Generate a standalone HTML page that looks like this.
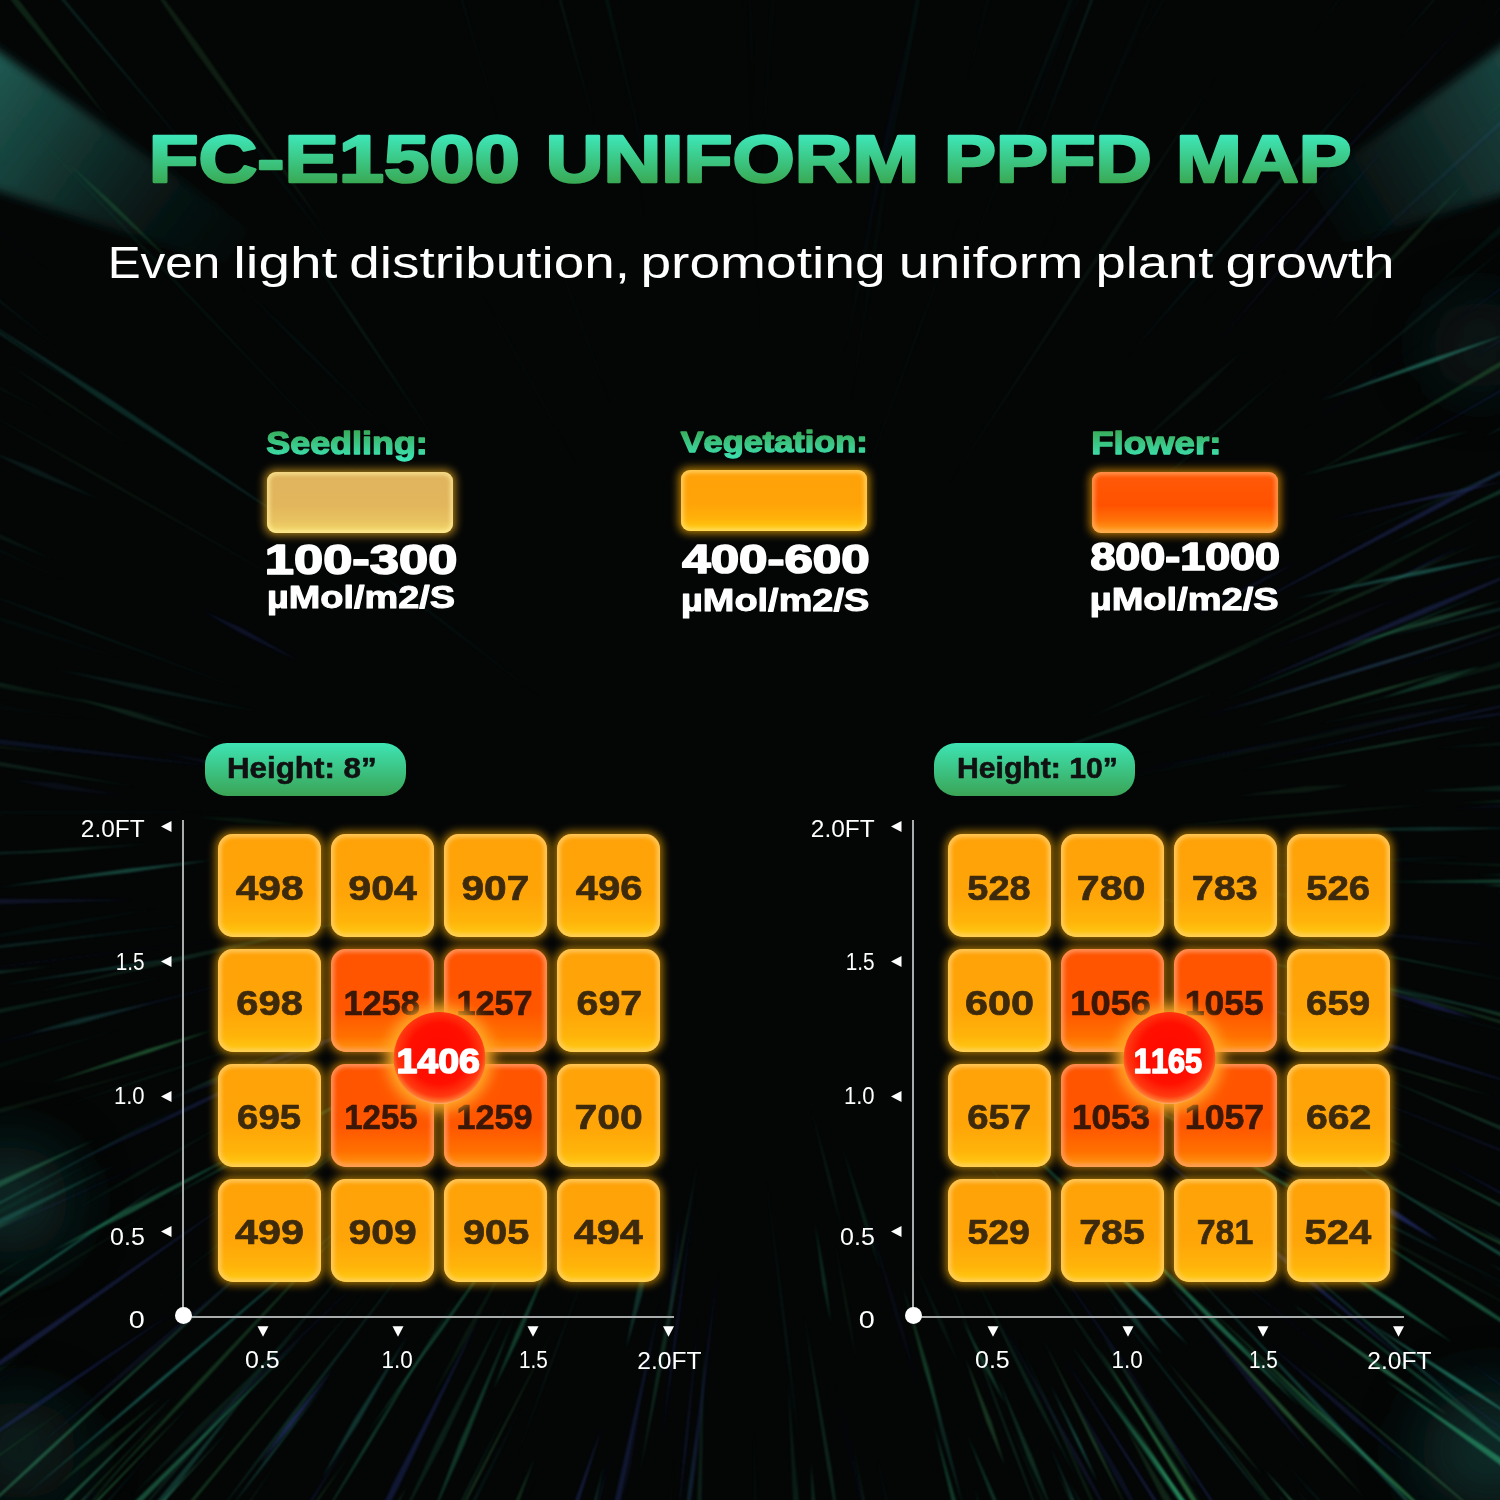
<!DOCTYPE html><html><head><meta charset="utf-8"><style>html,body{margin:0;padding:0;background:#040606;}svg{display:block;font-family:"Liberation Sans",sans-serif;font-kerning:none;}</style></head><body>
<svg width="1500" height="1500" viewBox="0 0 1500 1500">

<defs>
<filter id="bl1" x="-10%" y="-10%" width="120%" height="120%"><feGaussianBlur stdDeviation="0.8"/></filter>
<filter id="bl8" x="-80%" y="-80%" width="260%" height="260%"><feGaussianBlur stdDeviation="30"/></filter>
<filter id="bl4" x="-30%" y="-30%" width="160%" height="160%"><feGaussianBlur stdDeviation="5"/></filter>
<linearGradient id="gBeamL" x1="0" y1="0" x2="1" y2="0.6">
  <stop offset="0" stop-color="#205e56" stop-opacity="1"/><stop offset="0.3" stop-color="#1b5049" stop-opacity="0.75"/><stop offset="0.7" stop-color="#163f3a" stop-opacity="0.25"/><stop offset="1" stop-color="#143c38" stop-opacity="0"/>
</linearGradient>
<linearGradient id="gBeamR" x1="1" y1="0" x2="0" y2="0.6">
  <stop offset="0" stop-color="#1d4f4a" stop-opacity="0.9"/><stop offset="0.4" stop-color="#1a4642" stop-opacity="0.6"/><stop offset="1" stop-color="#143c38" stop-opacity="0"/>
</linearGradient>
<filter id="glow" x="-30%" y="-30%" width="160%" height="160%"><feGaussianBlur stdDeviation="5"/></filter>
<filter id="glow2" x="-50%" y="-50%" width="200%" height="200%"><feGaussianBlur stdDeviation="7"/></filter>
<filter id="inner" x="-10%" y="-10%" width="120%" height="120%"><feGaussianBlur stdDeviation="2.2"/></filter>
<linearGradient id="gTitle" gradientUnits="userSpaceOnUse" x1="0" y1="134" x2="0" y2="184">
  <stop offset="0" stop-color="#3ee8bb"/><stop offset="1" stop-color="#39a852"/>
</linearGradient>
<linearGradient id="gLabel" gradientUnits="userSpaceOnUse" x1="0" y1="428" x2="0" y2="460">
  <stop offset="0" stop-color="#38a852"/><stop offset="1" stop-color="#3de6b8"/>
</linearGradient>
<linearGradient id="gBadge" x1="0" y1="0" x2="0" y2="1">
  <stop offset="0" stop-color="#3ee4b4"/><stop offset="1" stop-color="#3aa455"/>
</linearGradient>
<linearGradient id="gOr" x1="0" y1="0" x2="0" y2="1">
  <stop offset="0" stop-color="#ffa208"/><stop offset="0.6" stop-color="#ffa508"/><stop offset="0.85" stop-color="#ffb40a"/><stop offset="1" stop-color="#ffcc12"/>
</linearGradient>
<linearGradient id="gRd" x1="0" y1="0" x2="0" y2="1">
  <stop offset="0" stop-color="#ff5400"/><stop offset="0.6" stop-color="#ff5600"/><stop offset="0.85" stop-color="#ff7000"/><stop offset="1" stop-color="#ff9a12"/>
</linearGradient>
<linearGradient id="gSeed" x1="0" y1="0" x2="0" y2="1">
  <stop offset="0" stop-color="#e0b45e"/><stop offset="0.55" stop-color="#e2b65c"/><stop offset="0.8" stop-color="#e8c260"/><stop offset="1" stop-color="#f4da6a"/>
</linearGradient>
<linearGradient id="gVeg" x1="0" y1="0" x2="0" y2="1">
  <stop offset="0" stop-color="#ffa20a"/><stop offset="0.55" stop-color="#ffa308"/><stop offset="0.8" stop-color="#ffb20a"/><stop offset="1" stop-color="#ffd012"/>
</linearGradient>
<linearGradient id="gFlw" x1="0" y1="0" x2="0" y2="1">
  <stop offset="0" stop-color="#ff5a08"/><stop offset="0.55" stop-color="#ff5200"/><stop offset="0.8" stop-color="#ff7408"/><stop offset="1" stop-color="#ffaa22"/>
</linearGradient>
<radialGradient id="gCirc" cx="0.5" cy="0.45" r="0.55">
  <stop offset="0" stop-color="#ff0800"/><stop offset="0.6" stop-color="#ff1000"/><stop offset="0.85" stop-color="#ff3a10"/><stop offset="0.96" stop-color="#ff7a30"/><stop offset="1" stop-color="#ffb070"/>
</radialGradient>
</defs>

<rect width="1500" height="1500" fill="#040606"/>
<g filter="url(#bl4)">
<polygon points="-10,45 300,265 300,290 -10,188" fill="url(#gBeamL)"/>
<polygon points="1510,40 1290,200 1290,262 1510,192" fill="url(#gBeamR)"/>
</g>
<g filter="url(#bl8)">
<ellipse cx="1480" cy="345" rx="50" ry="45" fill="#134040" opacity="0.35"/>
<ellipse cx="10" cy="1200" rx="60" ry="55" fill="#124440" opacity="0.55"/>
<ellipse cx="1490" cy="1450" rx="70" ry="60" fill="#15504a" opacity="0.5"/>
<ellipse cx="20" cy="1450" rx="60" ry="50" fill="#124440" opacity="0.4"/>
</g>
<g filter="url(#bl1)">
<polygon points="1069,1390 1115.1,1477.3 1150,1533 1120.3,1474.4" fill="#3040a8" opacity="0.17"/>
<polygon points="-30,1228 -219.6,1307.3 -345,1364 -217.8,1311.4" fill="#2aa070" opacity="0.35"/>
<polygon points="1159,939 1392.0,990.9 1548,1023 1392.6,988.2" fill="#2b9a8a" opacity="0.26"/>
<polygon points="1191,1124 1390.6,1227.6 1525,1294 1392.0,1224.8" fill="#2b9a8a" opacity="0.16"/>
<polygon points="642,2 631.2,-105.3 618,-176 623.7,-104.4" fill="#3040a8" opacity="0.05"/>
<polygon points="137,1544 40.0,1656.3 -23,1732 41.3,1657.4" fill="#39a35a" opacity="0.22"/>
<polygon points="1391,861 1555.2,868.8 1664,871 1555.3,865.5" fill="#39a35a" opacity="0.13"/>
<polygon points="1017,1336 1084.6,1488.3 1132,1589 1087.3,1487.1" fill="#39a35a" opacity="0.15"/>
<polygon points="1192,618 1256.6,585.4 1299,561 1254.9,582.1" fill="#3444a0" opacity="0.14"/>
<polygon points="-21,894 -109.1,902.0 -168,909 -108.9,904.0" fill="#2aa070" opacity="0.20"/>
<polygon points="1344,1052 1433.9,1079.8 1495,1097 1434.4,1078.2" fill="#4aa860" opacity="0.28"/>
<polygon points="972,1141 1023.2,1216.4 1060,1265 1026.3,1214.2" fill="#3aa070" opacity="0.09"/>
<polygon points="-1,294 -112.1,206.8 -189,152 -115.1,210.7" fill="#2fb07a" opacity="0.09"/>
<polygon points="1215,1320 1304.4,1407.8 1368,1463 1308.8,1403.1" fill="#2aa070" opacity="0.23"/>
<polygon points="1134,591 1193.8,546.3 1232,514 1191.9,543.9" fill="#2b9a8a" opacity="0.05"/>
<polygon points="1478,1526 1600.0,1636.4 1686,1706 1604.9,1630.7" fill="#2b9a8a" opacity="0.23"/>
<polygon points="1398,41 1558.7,-139.4 1663,-262 1555.2,-142.5" fill="#2fa38a" opacity="0.19"/>
<polygon points="1483,886 1574.2,886.6 1635,882 1574.1,880.6" fill="#2fb07a" opacity="0.43"/>
<polygon points="774,1557 768.9,1741.0 772,1863 775.9,1741.0" fill="#3aa070" opacity="0.28"/>
<polygon points="1463,1358 1695.7,1526.7 1852,1637 1697.7,1523.9" fill="#3040a8" opacity="0.55"/>
<polygon points="915,1264 939.5,1325.4 959,1365 943.6,1323.6" fill="#2aa070" opacity="0.09"/>
<polygon points="1476,1226 1610.3,1308.7 1702,1360 1613.1,1304.0" fill="#2fa38a" opacity="0.41"/>
<polygon points="1075,1004 1180.9,1059.6 1253,1094 1182.5,1056.5" fill="#2aa070" opacity="0.28"/>
<polygon points="125,1027 -49.1,1076.9 -164,1116 -47.1,1083.6" fill="#39a35a" opacity="0.06"/>
<polygon points="972,1271 1032.0,1395.7 1076,1477 1036.0,1393.7" fill="#2fb07a" opacity="0.16"/>
<polygon points="1497,419 1735.3,292.1 1891,202 1731.5,285.1" fill="#2fa38a" opacity="0.11"/>
<polygon points="596,130 545.1,-61.4 508,-188 541.7,-60.5" fill="#3aa070" opacity="0.11"/>
<polygon points="1453,809 1580.0,803.2 1664,795 1579.6,798.2" fill="#3444a0" opacity="0.16"/>
<polygon points="1508,610 1594.6,581.9 1650,558 1592.5,576.3" fill="#3444a0" opacity="0.16"/>
<polygon points="1101,1381 1204.6,1537.7 1277,1640 1208.9,1534.8" fill="#2aa070" opacity="0.40"/>
<polygon points="900,1523 920.7,1634.6 936,1708 922.7,1634.2" fill="#2fa38a" opacity="0.19"/>
<polygon points="-38,1155 -126.9,1176.7 -184,1198 -124.6,1184.4" fill="#3444a0" opacity="0.22"/>
<polygon points="1481,279 1679.2,106.0 1808,-12 1675.9,102.4" fill="#2fa38a" opacity="0.13"/>
<polygon points="206,9 32.8,-258.9 -87,-435 28.0,-255.7" fill="#2b9a8a" opacity="0.04"/>
<polygon points="675,1449 657.0,1644.5 646,1775 658.9,1644.7" fill="#39a35a" opacity="0.10"/>
<polygon points="1305,1244 1392.7,1305.2 1453,1343 1395.2,1301.5" fill="#2fb07a" opacity="0.45"/>
<polygon points="140,-26 8.1,-193.2 -83,-303 4.7,-190.5" fill="#3444a0" opacity="0.17"/>
<polygon points="267,775 202.3,759.4 159,752 201.7,762.3" fill="#3040a8" opacity="0.13"/>
<polygon points="198,161 1.1,-77.5 -133,-234 -1.9,-75.0" fill="#2fa38a" opacity="0.20"/>
<polygon points="337,-20 265.9,-200.7 213,-318 259.0,-197.8" fill="#2fb07a" opacity="0.08"/>
<polygon points="965,90 1017.0,-101.8 1047,-231 1011.2,-103.3" fill="#2b9a8a" opacity="0.04"/>
<polygon points="1241,771 1394.1,744.8 1496,725 1393.6,742.2" fill="#3aa070" opacity="0.28"/>
<polygon points="1328,326 1413.0,240.0 1467,180 1409.9,237.0" fill="#4aa860" opacity="0.16"/>
<polygon points="218,740 132.4,711.8 74,697 131.0,716.4" fill="#3aa070" opacity="0.17"/>
<polygon points="175,1403 52.8,1530.0 -28,1615 53.9,1531.1" fill="#4aa860" opacity="0.44"/>
<polygon points="140,1446 5.8,1597.9 -80,1702 9.6,1601.1" fill="#3aa070" opacity="0.23"/>
<polygon points="1379,1076 1518.3,1137.5 1612,1175 1519.7,1134.1" fill="#3aa070" opacity="0.27"/>
<polygon points="1425,296 1508.2,227.0 1560,177 1503.9,222.1" fill="#2fb07a" opacity="0.07"/>
<polygon points="120,795 56.7,782.7 14,780 55.8,789.2" fill="#3040a8" opacity="0.10"/>
<polygon points="980,1469 1032.0,1582.8 1068,1658 1034.1,1581.8" fill="#3040a8" opacity="0.08"/>
<polygon points="179,1061 -1.6,1108.7 -121,1145 -0.3,1113.3" fill="#4aa860" opacity="0.09"/>
<polygon points="42,1352 -126.3,1462.4 -237,1539 -123.9,1466.0" fill="#3444a0" opacity="0.12"/>
<polygon points="305,594 101.7,476.2 -35,400 100.4,478.6" fill="#4aa860" opacity="0.10"/>
<polygon points="1014,790 1100.2,766.7 1157,750 1099.8,765.2" fill="#3040a8" opacity="0.07"/>
<polygon points="19,689 -76.6,666.8 -141,657 -77.7,672.6" fill="#3040a8" opacity="0.04"/>
<polygon points="857,286 891.3,131.5 910,28 886.1,130.4" fill="#3040a8" opacity="0.07"/>
<polygon points="167,1181 -29.5,1312.3 -159,1402 -27.2,1315.6" fill="#2fa38a" opacity="0.48"/>
<polygon points="53,714 -126.4,682.4 -247,664 -127.0,686.2" fill="#2fb07a" opacity="0.05"/>
<polygon points="595,1500 557.9,1673.8 535,1790 560.3,1674.3" fill="#2fb07a" opacity="0.19"/>
<polygon points="1496,354 1651.6,260.9 1755,197 1650.4,259.0" fill="#3aa070" opacity="0.12"/>
<polygon points="1351,1032 1549.8,1096.7 1683,1139 1550.2,1095.3" fill="#3040a8" opacity="0.13"/>
<polygon points="1304,962 1482.5,1011.4 1602,1042 1483.1,1009.0" fill="#3aa070" opacity="0.14"/>
<polygon points="277,1462 137.6,1662.6 46,1797 139.7,1664.1" fill="#4aa860" opacity="0.39"/>
<polygon points="1315,32 1464.7,-164.1 1559,-299 1458.6,-168.6" fill="#2fa38a" opacity="0.08"/>
<polygon points="1553,834 1642.0,832.0 1701,827 1641.8,827.7" fill="#2fb07a" opacity="0.43"/>
<polygon points="1265,1341 1351.0,1418.5 1411,1467 1354.2,1414.8" fill="#3040a8" opacity="0.21"/>
<polygon points="163,1396 96.7,1448.4 56,1487 100.3,1452.6" fill="#39a35a" opacity="0.20"/>
<polygon points="1291,1303 1384.2,1372.8 1449,1416 1386.7,1369.2" fill="#3aa070" opacity="0.55"/>
<polygon points="997,771 1129.2,725.7 1216,692 1127.8,722.1" fill="#2fb07a" opacity="0.15"/>
<polygon points="692,1457 675.2,1609.9 666,1712 677.9,1610.2" fill="#2b9a8a" opacity="0.25"/>
<polygon points="1310,863 1407.4,860.0 1472,857 1407.4,858.6" fill="#2fa38a" opacity="0.12"/>
<polygon points="366,482 151.8,255.1 8,105 150.0,256.8" fill="#2fb07a" opacity="0.09"/>
<polygon points="1239,612 1444.6,505.2 1580,430 1442.2,500.7" fill="#3444a0" opacity="0.31"/>
<polygon points="1484,437 1578.4,390.6 1640,356 1575.9,385.8" fill="#2fa38a" opacity="0.33"/>
<polygon points="1369,466 1598.6,336.3 1751,248 1597.4,334.3" fill="#3040a8" opacity="0.30"/>
<polygon points="-41,141 -183.9,-4.1 -283,-97 -188.4,0.5" fill="#2fa38a" opacity="0.21"/>
<polygon points="1318,724 1488.5,690.3 1602,665 1487.8,686.9" fill="#3aa070" opacity="0.22"/>
<polygon points="1204,1415 1336.3,1591.8 1427,1708 1339.3,1589.5" fill="#39a35a" opacity="0.32"/>
<polygon points="250,978 89.8,1017.3 -16,1046 90.5,1019.8" fill="#3444a0" opacity="0.20"/>
<polygon points="505,1413 420.5,1580.0 368,1693 425.1,1582.2" fill="#2fb07a" opacity="0.15"/>
<polygon points="935,1241 1013.2,1450.5 1067,1590 1015.1,1449.8" fill="#3aa070" opacity="0.21"/>
<polygon points="-16,679 -194.1,643.8 -314,625 -195.1,649.3" fill="#39a35a" opacity="0.22"/>
<polygon points="299,661 242.9,628.8 203,611 240.6,633.1" fill="#3040a8" opacity="0.21"/>
<polygon points="884,181 925.1,-25.9 949,-165 920.1,-26.9" fill="#2fb07a" opacity="0.07"/>
<polygon points="1077,1546 1124.1,1667.2 1161,1746 1131.0,1664.2" fill="#2fb07a" opacity="0.51"/>
<polygon points="1315,405 1433.2,309.0 1510,243 1430.8,306.2" fill="#2fa38a" opacity="0.10"/>
<polygon points="1499,-13 1589.4,-108.5 1647,-175 1585.4,-112.1" fill="#4aa860" opacity="0.17"/>
<polygon points="1050,1384 1077.8,1443.8 1098,1483 1079.9,1442.8" fill="#2b9a8a" opacity="0.50"/>
<polygon points="71,1487 -40.3,1603.1 -113,1682 -38.6,1604.6" fill="#3444a0" opacity="0.51"/>
<polygon points="945,490 1111.7,239.8 1220,71 1108.1,237.4" fill="#4aa860" opacity="0.08"/>
<polygon points="1472,1271 1709.0,1407.1 1869,1494 1711.3,1402.9" fill="#2fb07a" opacity="0.17"/>
<polygon points="137,787 4.4,762.8 -85,750 3.8,766.6" fill="#3aa070" opacity="0.17"/>
<polygon points="14,1308 -163.8,1437.0 -281,1525 -161.9,1439.6" fill="#3aa070" opacity="0.24"/>
<polygon points="357,-49 324.9,-129.4 302,-183 322.7,-128.5" fill="#3aa070" opacity="0.16"/>
<polygon points="1261,760 1462.3,715.9 1596,685 1461.9,714.0" fill="#3040a8" opacity="0.29"/>
<polygon points="1397,1191 1629.2,1310.4 1785,1387 1630.9,1307.0" fill="#39a35a" opacity="0.50"/>
<polygon points="760,191 781.0,-74.4 790,-252 774.3,-74.8" fill="#3aa070" opacity="0.02"/>
<polygon points="846,530 918.1,334.6 965,204 916.4,334.0" fill="#4aa860" opacity="0.06"/>
<polygon points="660,1303 611.9,1512.6 585,1653 617.8,1513.9" fill="#3444a0" opacity="0.28"/>
<polygon points="1330,972 1557.1,1040.4 1710,1083 1558.2,1036.7" fill="#39a35a" opacity="0.25"/>
<polygon points="1000,1123 1087.9,1211.5 1149,1268 1091.1,1208.2" fill="#2aa070" opacity="0.34"/>
<polygon points="833,1377 867.6,1529.5 892,1631 869.4,1529.1" fill="#3040a8" opacity="0.14"/>
<polygon points="877,1455 906.2,1610.1 932,1712 913.3,1608.6" fill="#2b9a8a" opacity="0.06"/>
<polygon points="1502,552 1585.0,517.2 1638,489 1581.9,510.5" fill="#3444a0" opacity="0.23"/>
<polygon points="842,1146 863.1,1221.2 880,1270 866.7,1220.0" fill="#2fb07a" opacity="0.15"/>
<polygon points="1228,711 1435.8,647.5 1574,603 1435.1,645.5" fill="#4aa860" opacity="0.31"/>
<polygon points="768,1515 766.9,1602.0 771,1660 772.3,1601.9" fill="#4aa860" opacity="0.08"/>
<polygon points="1496,892 1582.6,900.9 1641,902 1583.0,895.1" fill="#3aa070" opacity="0.39"/>
<polygon points="1162,827 1323.4,814.6 1431,804 1323.1,811.2" fill="#4aa860" opacity="0.13"/>
<polygon points="1252,638 1391.4,567.2 1483,516 1389.2,563.0" fill="#39a35a" opacity="0.14"/>
<polygon points="1198,309 1373.9,121.6 1490,-5 1372.3,120.1" fill="#3444a0" opacity="0.15"/>
<polygon points="97,1489 -90.6,1645.4 -212,1754 -86.0,1650.7" fill="#3040a8" opacity="0.67"/>
<polygon points="1212,349 1322.1,223.7 1393,138 1318.9,221.0" fill="#3444a0" opacity="0.12"/>
<polygon points="544,700 433.6,614.0 360,558 432.8,615.0" fill="#2b9a8a" opacity="0.14"/>
<polygon points="619,63 590.0,-91.4 564,-193 582.7,-89.8" fill="#2aa070" opacity="0.03"/>
<polygon points="944,1496 988.2,1658.0 1021,1765 992.2,1656.8" fill="#2fa38a" opacity="0.11"/>
<polygon points="350,1439 250.1,1590.9 189,1695 256.4,1594.9" fill="#3040a8" opacity="0.15"/>
<polygon points="1057,1473 1102.4,1565.5 1136,1625 1106.8,1563.2" fill="#3aa070" opacity="0.27"/>
<polygon points="1088,718 1200.7,669.3 1275,635 1199.4,666.5" fill="#3aa070" opacity="0.25"/>
<polygon points="-31,671 -198.2,627.3 -310,600 -198.7,629.0" fill="#3444a0" opacity="0.14"/>
<polygon points="1123,362 1270.3,194.5 1367,81 1267.8,192.4" fill="#2b9a8a" opacity="0.15"/>
<polygon points="408,1335 354.0,1419.8 322,1478 358.5,1422.6" fill="#2b9a8a" opacity="0.31"/>
<polygon points="305,825 239.8,817.8 196,817 239.5,822.8" fill="#39a35a" opacity="0.09"/>
<polygon points="600,1518 586.5,1581.0 581,1623 590.3,1581.7" fill="#3040a8" opacity="0.21"/>
<polygon points="514,1318 459.7,1442.1 428,1526 464.7,1444.2" fill="#2aa070" opacity="0.31"/>
<polygon points="313,1213 141.3,1354.7 30,1453 144.8,1358.7" fill="#3444a0" opacity="0.13"/>
<polygon points="595,-5 554.5,-261.3 523,-432 549.0,-260.4" fill="#2fb07a" opacity="0.04"/>
<polygon points="1302,1092 1364.1,1127.6 1407,1149 1366.0,1124.2" fill="#39a35a" opacity="0.27"/>
<polygon points="362,1551 257.7,1734.8 191,1859 260.9,1736.5" fill="#3aa070" opacity="0.10"/>
<polygon points="1492,465 1589.7,425.4 1653,394 1587.0,419.3" fill="#2fb07a" opacity="0.12"/>
<polygon points="1264,1469 1380.4,1608.7 1462,1698 1385.6,1604.2" fill="#3aa070" opacity="0.67"/>
<polygon points="754,108 751.8,24.9 749,-30 749.7,24.9" fill="#2b9a8a" opacity="0.03"/>
<polygon points="830,1436 838.0,1613.0 846,1731 840.5,1612.9" fill="#4aa860" opacity="0.06"/>
<polygon points="1533,1072 1591.5,1092.7 1632,1101 1593.4,1086.2" fill="#2b9a8a" opacity="0.18"/>
<polygon points="662,1554 651.0,1628.4 646,1678 654.2,1628.8" fill="#3040a8" opacity="0.13"/>
<polygon points="1535,852 1721.0,863.6 1845,867 1721.2,858.9" fill="#39a35a" opacity="0.30"/>
<polygon points="490,1034 291.1,1187.9 159,1291 291.8,1188.8" fill="#3aa070" opacity="0.34"/>
<polygon points="1131,1420 1216.1,1558.9 1277,1649 1220.2,1556.2" fill="#39a35a" opacity="0.41"/>
<polygon points="437,854 365.1,851.4 317,851 365.1,853.3" fill="#2aa070" opacity="0.07"/>
<polygon points="1345,622 1548.6,545.0 1684,492 1547.8,543.0" fill="#3040a8" opacity="0.08"/>
<polygon points="1158,877 1305.7,901.1 1405,912 1306.5,895.8" fill="#39a35a" opacity="0.07"/>
<polygon points="843,360 862.6,274.8 873,217 859.1,274.0" fill="#2fb07a" opacity="0.04"/>
<polygon points="788,1379 793.4,1510.0 801,1597 798.8,1509.7" fill="#3aa070" opacity="0.14"/>
<polygon points="345,1499 259.2,1638.7 207,1735 265.3,1642.3" fill="#2b9a8a" opacity="0.20"/>
<polygon points="522,1234 464.7,1333.1 430,1401 469.0,1335.5" fill="#39a35a" opacity="0.11"/>
<polygon points="67,582 -77.2,512.4 -174,469 -78.7,515.8" fill="#2fa38a" opacity="0.08"/>
<polygon points="965,1357 986.8,1422.9 1005,1466 991.3,1421.2" fill="#4aa860" opacity="0.29"/>
<polygon points="245,1150 127.3,1208.7 51,1252 130.0,1213.8" fill="#2aa070" opacity="0.43"/>
<polygon points="312,1504 276.2,1563.9 254,1605 278.6,1565.3" fill="#2fa38a" opacity="0.21"/>
<polygon points="-10,167 -202.5,11.4 -334,-87 -206.9,17.1" fill="#39a35a" opacity="0.09"/>
<polygon points="1154,1534 1189.6,1594.3 1215,1633 1191.7,1593.0" fill="#2fa38a" opacity="0.50"/>
<polygon points="357,972 284.9,993.5 237,1009 285.3,994.8" fill="#3444a0" opacity="0.06"/>
<polygon points="934,1425 953.7,1509.3 971,1564 958.2,1508.2" fill="#2aa070" opacity="0.34"/>
<polygon points="1382,698 1442.2,682.5 1481,666 1440.1,675.9" fill="#2fb07a" opacity="0.22"/>
<polygon points="1428,724 1488.7,716.7 1529,710 1488.3,714.2" fill="#3040a8" opacity="0.23"/>
<polygon points="228,1500 171.7,1569.4 138,1619 176.4,1573.0" fill="#3aa070" opacity="0.50"/>
<polygon points="815,1222 822.5,1283.3 831,1324 826.2,1282.7" fill="#2fb07a" opacity="0.22"/>
<polygon points="366,1206 158.2,1380.8 21,1499 160.0,1382.9" fill="#2b9a8a" opacity="0.53"/>
<polygon points="1531,640 1708.1,598.6 1825,565 1706.4,591.9" fill="#2fa38a" opacity="0.40"/>
<polygon points="1097,1346 1189.9,1498.7 1255,1599 1194.1,1496.1" fill="#39a35a" opacity="0.55"/>
<polygon points="974,1487 1032.3,1690.4 1077,1824 1038.8,1688.5" fill="#39a35a" opacity="0.43"/>
<polygon points="998,1378 1028.2,1459.9 1053,1513 1033.0,1457.9" fill="#2aa070" opacity="0.25"/>
<polygon points="45,1497 -71.0,1602.0 -144,1676 -65.7,1607.6" fill="#4aa860" opacity="0.33"/>
<polygon points="1307,735 1406.5,719.1 1472,704 1405.5,714.0" fill="#3444a0" opacity="0.08"/>
<polygon points="1463,259 1635.6,131.7 1748,43 1632.3,127.4" fill="#39a35a" opacity="0.05"/>
<polygon points="1061,1353 1180.1,1543.2 1262,1668 1183.1,1541.3" fill="#3444a0" opacity="0.34"/>
<polygon points="1257,1226 1411.0,1362.4 1515,1452 1412.5,1360.6" fill="#2b9a8a" opacity="0.38"/>
<polygon points="1529,1498 1677.7,1627.0 1779,1711 1680.1,1624.2" fill="#3aa070" opacity="0.59"/>
<polygon points="445,1046 276.7,1136.3 166,1199 278.3,1139.2" fill="#2fb07a" opacity="0.33"/>
<polygon points="1124,1424 1162.2,1498.2 1193,1545 1168.0,1494.9" fill="#4aa860" opacity="0.19"/>
<polygon points="-4,667 -229.1,602.2 -380,564 -230.7,608.4" fill="#2fb07a" opacity="0.21"/>
<polygon points="413,906 186.1,955.2 36,992 187.1,959.5" fill="#3aa070" opacity="0.17"/>
<polygon points="349,1456 252.2,1589.6 189,1680 254.1,1590.9" fill="#39a35a" opacity="0.48"/>
<polygon points="1296,435 1374.5,377.8 1426,339 1373.7,376.7" fill="#3444a0" opacity="0.12"/>
<polygon points="305,532 109.7,398.8 -23,315 106.4,403.8" fill="#2b9a8a" opacity="0.24"/>
<polygon points="522,1406 447.3,1548.8 401,1645 451.2,1550.8" fill="#2b9a8a" opacity="0.12"/>
<polygon points="555,1327 474.8,1481.3 423,1584 476.3,1482.0" fill="#4aa860" opacity="0.39"/>
<polygon points="602,1226 549.0,1365.5 516,1459 551.3,1366.3" fill="#3aa070" opacity="0.09"/>
<polygon points="961,1318 986.3,1371.1 1006,1405 989.6,1369.3" fill="#2fb07a" opacity="0.29"/>
<polygon points="1349,258 1509.3,116.2 1615,20 1507.7,114.4" fill="#2fb07a" opacity="0.08"/>
<polygon points="1431,1169 1561.0,1237.4 1648,1282 1562.0,1235.5" fill="#2b9a8a" opacity="0.39"/>
<polygon points="1297,1361 1427.0,1472.1 1515,1545 1428.5,1470.3" fill="#4aa860" opacity="0.38"/>
<polygon points="424,1243 292.9,1411.9 208,1526 295.5,1413.9" fill="#2fa38a" opacity="0.23"/>
<polygon points="1166,1360 1222.7,1431.0 1263,1476 1225.7,1428.5" fill="#4aa860" opacity="0.23"/>
<polygon points="373,1549 338.8,1613.7 322,1660 346.2,1617.1" fill="#39a35a" opacity="0.30"/>
<polygon points="1309,1136 1497.2,1254.0 1624,1330 1498.8,1251.4" fill="#2fa38a" opacity="0.45"/>
<polygon points="1363,1319 1461.9,1386.1 1530,1428 1464.2,1382.6" fill="#2fa38a" opacity="0.57"/>
<polygon points="1421,791 1521.6,790.9 1589,786 1521.4,784.3" fill="#2fb07a" opacity="0.16"/>
<polygon points="443,1531 367.4,1729.9 319,1863 369.7,1730.7" fill="#3040a8" opacity="0.24"/>
<polygon points="288,1047 216.3,1077.2 169,1099 217.3,1079.5" fill="#3aa070" opacity="0.25"/>
<polygon points="96,1139 -10.5,1185.0 -79,1221 -7.8,1190.9" fill="#3aa070" opacity="0.36"/>
<polygon points="435,1000 272.8,1058.8 166,1101 274.0,1062.0" fill="#3444a0" opacity="0.33"/>
<polygon points="1244,687 1425.7,613.6 1545,560 1423.5,608.3" fill="#3444a0" opacity="0.30"/>
<polygon points="1071,1345 1200.5,1532.6 1292,1655 1206.0,1528.6" fill="#2fb07a" opacity="0.43"/>
<polygon points="165,977 -2.5,1009.2 -113,1034 -1.7,1013.4" fill="#2fb07a" opacity="0.15"/>
<polygon points="1074,1062 1268.2,1176.2 1399,1250 1269.6,1173.7" fill="#2aa070" opacity="0.44"/>
<polygon points="436,441 355.8,319.1 300,239 353.5,320.7" fill="#39a35a" opacity="0.13"/>
<polygon points="1091,1197 1213.8,1324.0 1299,1406 1217.2,1320.5" fill="#2fb07a" opacity="0.50"/>
<polygon points="851,1558 887.0,1756.4 915,1888 891.8,1755.5" fill="#3040a8" opacity="0.06"/>
<polygon points="1470,359 1602.2,283.6 1688,229 1598.9,278.1" fill="#3040a8" opacity="0.22"/>
<polygon points="115,1165 -24.0,1229.8 -114,1278 -20.8,1236.2" fill="#2b9a8a" opacity="0.31"/>
<polygon points="231,768 -6.3,738.4 -165,723 -6.8,743.5" fill="#3040a8" opacity="0.18"/>
<polygon points="1363,596 1425.0,565.6 1466,544 1424.1,563.7" fill="#3040a8" opacity="0.23"/>
<polygon points="602,1427 556.2,1553.0 531,1639 562.3,1555.0" fill="#3444a0" opacity="0.34"/>
<polygon points="1296,830 1431.1,830.7 1521,828 1431.1,827.0" fill="#2fa38a" opacity="0.24"/>
<polygon points="190,1405 -8.0,1607.2 -138,1744 -5.5,1609.6" fill="#39a35a" opacity="0.60"/>
<polygon points="804,1314 827.5,1468.2 846,1571 831.1,1467.6" fill="#3aa070" opacity="0.21"/>
<polygon points="1504,1508 1623.6,1627.6 1708,1703 1629.1,1621.9" fill="#2aa070" opacity="0.23"/>
<polygon points="546,24 516.3,-145.2 493,-258 512.9,-144.5" fill="#3aa070" opacity="0.04"/>
<polygon points="255,1260 38.3,1457.7 -104,1591 40.5,1460.1" fill="#3aa070" opacity="0.49"/>
<polygon points="1533,907 1702.3,936.3 1816,951 1703.3,930.1" fill="#39a35a" opacity="0.33"/>
<polygon points="1388,637 1492.5,612.8 1561,594 1491.6,609.5" fill="#2b9a8a" opacity="0.19"/>
<polygon points="1554,531 1672.7,480.7 1750,444 1671.0,477.0" fill="#3040a8" opacity="0.26"/>
<polygon points="1104,1338 1157.5,1429.1 1197,1487 1162.8,1425.8" fill="#39a35a" opacity="0.22"/>
<polygon points="1172,677 1360.8,596.4 1486,540 1359.5,593.4" fill="#4aa860" opacity="0.19"/>
<polygon points="1198,718 1379.7,665.7 1500,628 1378.6,661.9" fill="#3444a0" opacity="0.26"/>
<polygon points="641,1405 627.2,1464.4 622,1504 631.4,1465.2" fill="#3040a8" opacity="0.08"/>
<polygon points="1032,158 1134.7,-107.5 1199,-286 1130.4,-109.0" fill="#2fa38a" opacity="0.14"/>
<polygon points="541,1466 465.3,1660.5 416,1791 466.9,1661.1" fill="#2fa38a" opacity="0.09"/>
<polygon points="15,701 -217.3,669.7 -373,651 -217.7,672.4" fill="#2fa38a" opacity="0.15"/>
<polygon points="995,1201 1132.7,1406.8 1228,1542 1136.2,1404.4" fill="#2fb07a" opacity="0.12"/>
<polygon points="1277,1493 1414.4,1670.7 1510,1786 1419.7,1666.5" fill="#2b9a8a" opacity="0.65"/>
<polygon points="1375,1532 1434.0,1593.5 1477,1630 1439.2,1588.1" fill="#2aa070" opacity="0.57"/>
<polygon points="184,274 115.9,206.0 68,163 113.0,209.0" fill="#39a35a" opacity="0.23"/>
<polygon points="535,1457 486.8,1567.7 460,1643 493.3,1570.3" fill="#39a35a" opacity="0.29"/>
<polygon points="36,1251 -110.3,1337.2 -206,1398 -107.8,1341.3" fill="#39a35a" opacity="0.27"/>
<polygon points="574,-34 554.1,-134.5 539,-201 551.5,-134.0" fill="#3aa070" opacity="0.08"/>
<polygon points="204,727 -33.8,674.9 -193,643 -34.5,678.0" fill="#39a35a" opacity="0.13"/>
<polygon points="395,439 301.4,343.8 237,282 299.4,345.8" fill="#2b9a8a" opacity="0.07"/>
<polygon points="234,812 -1.4,810.4 -159,813 -1.4,814.7" fill="#2b9a8a" opacity="0.04"/>
<polygon points="1350,1127 1501.5,1206.9 1603,1259 1502.5,1205.0" fill="#39a35a" opacity="0.24"/>
<polygon points="205,1499 87.4,1630.3 13,1721 91.5,1633.9" fill="#3040a8" opacity="0.15"/>
<polygon points="1093,1266 1132.9,1321.6 1163,1356 1136.9,1318.5" fill="#2fa38a" opacity="0.27"/>
<polygon points="59,348 -137.8,189.3 -271,86 -140.5,192.7" fill="#2fa38a" opacity="0.16"/>
<polygon points="1240,865 1341.4,866.3 1409,865 1341.4,864.6" fill="#3040a8" opacity="0.33"/>
<polygon points="1388,545 1557.7,467.5 1669,411 1555.2,462.4" fill="#2aa070" opacity="0.29"/>
<polygon points="327,1382 266.7,1459.0 228,1511 268.0,1460.0" fill="#2b9a8a" opacity="0.48"/>
<polygon points="1371,677 1477.7,642.2 1548,617 1477.0,640.0" fill="#3444a0" opacity="0.13"/>
<polygon points="959,1511 1015.7,1725.5 1060,1867 1023.0,1723.4" fill="#2fa38a" opacity="0.10"/>
<polygon points="111,721 -68.2,698.9 -188,687 -68.5,701.8" fill="#2aa070" opacity="0.05"/>
<polygon points="1346,1220 1480.8,1309.8 1572,1367 1483.2,1306.0" fill="#2aa070" opacity="0.46"/>
<polygon points="1050,1446 1112.6,1597.9 1158,1698 1116.5,1596.3" fill="#2b9a8a" opacity="0.46"/>
<polygon points="967,260 1056.1,39.6 1113,-108 1053.4,38.5" fill="#2fa38a" opacity="0.08"/>
<polygon points="699,1316 684.7,1443.3 677,1528 687.1,1443.5" fill="#3444a0" opacity="0.22"/>
<polygon points="54,560 -32.3,518.4 -93,496 -35.3,525.3" fill="#2fa38a" opacity="0.09"/>
<polygon points="1333,1175 1396.1,1217.8 1440,1242 1399.1,1212.9" fill="#3444a0" opacity="0.47"/>
<polygon points="1543,457 1697.6,369.7 1800,310 1696.7,368.1" fill="#2fa38a" opacity="0.23"/>
<polygon points="10,970 -51.9,973.3 -93,980 -51.3,979.0" fill="#3040a8" opacity="0.23"/>
<polygon points="761,1551 754.9,1691.8 756,1786 760.5,1692.0" fill="#4aa860" opacity="0.10"/>
<polygon points="1098,1286 1215.5,1438.2 1295,1538 1217.1,1436.9" fill="#2b9a8a" opacity="0.31"/>
<polygon points="-3,1495 -154.5,1644.0 -251,1747 -149.8,1648.6" fill="#2aa070" opacity="0.65"/>
<polygon points="132,447 57.3,395.8 7,363 56.5,397.1" fill="#4aa860" opacity="0.20"/>
<polygon points="23,1353 -49.7,1402.4 -96,1439 -46.5,1406.8" fill="#2fa38a" opacity="0.14"/>
<polygon points="1308,1073 1509.3,1155.3 1644,1208 1510.4,1152.5" fill="#3444a0" opacity="0.15"/>
<polygon points="585,480 522.2,361.6 477,284 518.7,363.6" fill="#4aa860" opacity="0.02"/>
<polygon points="1192,986 1395.0,1048.9 1531,1088 1396.0,1045.7" fill="#3444a0" opacity="0.30"/>
<polygon points="1526,1161 1673.2,1218.7 1772,1254 1674.6,1215.1" fill="#3444a0" opacity="0.47"/>
<polygon points="502,135 455.6,-23.8 423,-129 454.2,-23.3" fill="#2fa38a" opacity="0.09"/>
<polygon points="1496,203 1583.0,129.6 1639,78 1580.0,126.2" fill="#2aa070" opacity="0.20"/>
<polygon points="235,1118 136.9,1172.8 73,1211 138.5,1175.5" fill="#2fb07a" opacity="0.12"/>
<polygon points="1382,882 1604.0,883.8 1752,880 1603.9,877.3" fill="#2aa070" opacity="0.36"/>
<polygon points="554,1169 440.0,1327.7 366,1435 442.5,1329.5" fill="#2aa070" opacity="0.36"/>
<polygon points="1446,328 1688.7,157.7 1848,40 1685.1,152.7" fill="#3040a8" opacity="0.20"/>
<polygon points="1039,987 1114.6,1028.2 1167,1053 1116.6,1024.3" fill="#3aa070" opacity="0.06"/>
<polygon points="355,1216 195.2,1384.5 91,1499 198.4,1387.5" fill="#39a35a" opacity="0.29"/>
<polygon points="911,1312 941.3,1433.4 965,1513 945.1,1432.4" fill="#2fa38a" opacity="0.21"/>
<polygon points="110,1153 -61.9,1240.4 -174,1304 -58.8,1246.4" fill="#2aa070" opacity="0.08"/>
<polygon points="1168,1280 1250.5,1385.2 1309,1452 1255.4,1381.3" fill="#3444a0" opacity="0.19"/>
<polygon points="1517,1023 1688.0,1058.4 1802,1080 1688.4,1056.7" fill="#3aa070" opacity="0.24"/>
<polygon points="766,1176 785.3,1341.3 800,1451 787.8,1340.9" fill="#2fa38a" opacity="0.10"/>
<polygon points="1020,153 1073.4,5.1 1104,-95 1067.9,3.2" fill="#2b9a8a" opacity="0.02"/>
<polygon points="878,1536 889.3,1668.1 900,1756 892.5,1667.8" fill="#2fa38a" opacity="0.27"/>
<polygon points="1370,987 1432.1,1008.4 1475,1019 1433.6,1003.4" fill="#3040a8" opacity="0.33"/>
<polygon points="1301,981 1515.2,1033.6 1658,1068 1515.5,1032.4" fill="#2fa38a" opacity="0.10"/>
<polygon points="1484,1095 1626.2,1147.1 1722,1180 1626.9,1145.2" fill="#3040a8" opacity="0.42"/>
<polygon points="1073,1229 1141.5,1300.3 1189,1346 1144.3,1297.5" fill="#2fa38a" opacity="0.55"/>
<polygon points="614,1160 587.4,1225.3 571,1269 588.6,1225.7" fill="#3444a0" opacity="0.31"/>
<polygon points="55,275 -161.4,102.6 -307,-11 -162.8,104.4" fill="#3040a8" opacity="0.12"/>
<polygon points="811,1461 812.3,1545.8 819,1602 819.8,1545.3" fill="#3aa070" opacity="0.21"/>
<polygon points="1238,926 1413.5,961.9 1531,985 1413.8,960.6" fill="#2aa070" opacity="0.28"/>
<polygon points="302,1338 125.8,1510.1 12,1628 129.8,1514.1" fill="#2aa070" opacity="0.46"/>
<polygon points="864,1203 894.7,1315.5 919,1389 899.3,1314.2" fill="#3444a0" opacity="0.08"/>
<polygon points="1384,1379 1502.4,1466.7 1585,1521 1506.3,1461.3" fill="#2aa070" opacity="0.62"/>
<polygon points="274,1036 147.4,1077.0 64,1106 148.0,1078.8" fill="#3aa070" opacity="0.14"/>
<polygon points="796,1457 800.6,1602.6 807,1700 804.4,1602.4" fill="#2b9a8a" opacity="0.15"/>
<polygon points="1200,1300 1395.6,1486.6 1528,1609 1398.0,1484.1" fill="#39a35a" opacity="0.57"/>
<polygon points="254,936 36.5,961.3 -108,980 36.7,963.0" fill="#3444a0" opacity="0.09"/>
<polygon points="535,1453 478.9,1627.3 443,1744 480.4,1627.8" fill="#3aa070" opacity="0.14"/>
<polygon points="1509,1400 1673.3,1511.2 1784,1584 1674.2,1509.9" fill="#3040a8" opacity="0.70"/>
<polygon points="1057,1526 1093.2,1597.7 1122,1643 1098.1,1595.0" fill="#3aa070" opacity="0.34"/>
<polygon points="1430,236 1512.9,173.3 1568,130 1511.8,172.0" fill="#3444a0" opacity="0.09"/>
<polygon points="385,1224 205.6,1430.5 89,1571 209.3,1433.7" fill="#2fa38a" opacity="0.14"/>
<polygon points="1175,1124 1423.7,1260.7 1591,1350 1425.0,1258.3" fill="#4aa860" opacity="0.10"/>
<polygon points="1202,1515 1325.8,1703.5 1411,1827 1329.1,1701.3" fill="#2aa070" opacity="0.32"/>
<polygon points="62,754 -68.4,738.3 -155,730 -68.7,740.9" fill="#4aa860" opacity="0.17"/>
<polygon points="1340,710 1532.2,658.7 1659,619 1530.4,652.4" fill="#2aa070" opacity="0.11"/>
<polygon points="260,712 137.3,684.1 55,669 136.3,688.8" fill="#2fa38a" opacity="0.13"/>
<polygon points="1125,512 1223.1,426.7 1288,369 1222.1,425.6" fill="#2fb07a" opacity="0.16"/>
<polygon points="1542,818 1698.1,819.8 1802,816 1698.1,813.6" fill="#39a35a" opacity="0.31"/>
<polygon points="1306,301 1537.4,93.1 1689,-49 1534.0,89.4" fill="#3040a8" opacity="0.10"/>
<polygon points="1337,1306 1524.1,1445.8 1650,1538 1525.2,1444.3" fill="#3444a0" opacity="0.16"/>
<polygon points="1333,546 1545.0,454.9 1686,391 1543.7,452.0" fill="#2fa38a" opacity="0.14"/>
<polygon points="1516,541 1654.9,487.2 1746,447 1652.8,482.3" fill="#4aa860" opacity="0.27"/>
<polygon points="-15,713 -226.9,673.3 -369,653 -228.1,680.7" fill="#39a35a" opacity="0.13"/>
<polygon points="7,165 -156.8,3.1 -269,-102 -160.2,6.6" fill="#3aa070" opacity="0.24"/>
<polygon points="67,1278 -166.0,1415.1 -321,1508 -165.2,1416.5" fill="#39a35a" opacity="0.12"/>
<polygon points="835,1242 846.8,1312.9 856,1360 848.5,1312.6" fill="#4aa860" opacity="0.16"/>
<polygon points="1072,1140 1259.1,1296.8 1385,1401 1259.7,1296.0" fill="#3444a0" opacity="0.16"/>
<polygon points="612,1453 592.5,1515.8 583,1558 595.8,1516.7" fill="#3040a8" opacity="0.13"/>
<polygon points="-17,600 -196.5,522.8 -318,475 -198.2,526.9" fill="#3444a0" opacity="0.22"/>
<polygon points="853,1442 889.8,1646.1 917,1781 892.5,1645.6" fill="#39a35a" opacity="0.33"/>
<polygon points="1127,455 1199.5,393.6 1245,349 1195.9,389.5" fill="#4aa860" opacity="0.08"/>
<polygon points="1098,1520 1138.5,1616.3 1168,1679 1141.6,1615.0" fill="#3040a8" opacity="0.29"/>
<polygon points="1487,1262 1716.4,1399.6 1872,1486 1720.1,1393.3" fill="#2aa070" opacity="0.57"/>
<polygon points="1238,796 1305.8,792.2 1351,785 1305.2,786.2" fill="#4aa860" opacity="0.12"/>
<polygon points="111,123 20.9,2.6 -44,-75 15.8,6.6" fill="#39a35a" opacity="0.19"/>
<polygon points="457,1296 366.6,1442.9 308,1542 369.1,1444.4" fill="#2fb07a" opacity="0.31"/>
<polygon points="510,1300 436.9,1440.2 393,1536 442.6,1443.0" fill="#2fb07a" opacity="0.15"/>
<polygon points="169,1201 12.5,1294.8 -90,1360 14.4,1298.0" fill="#4aa860" opacity="0.10"/>
<polygon points="469,1500 392.0,1685.3 347,1811 398.7,1687.9" fill="#3aa070" opacity="0.11"/>
<polygon points="1038,260 1132.7,44.2 1192,-101 1128.0,42.2" fill="#2b9a8a" opacity="0.03"/>
<polygon points="175,1394 9.5,1553.1 -98,1662 13.1,1556.7" fill="#3aa070" opacity="0.47"/>
<polygon points="1042,1337 1092.9,1443.2 1129,1513 1095.2,1442.1" fill="#4aa860" opacity="0.36"/>
<polygon points="554,1251 515.6,1333.5 493,1390 520.0,1335.4" fill="#2aa070" opacity="0.34"/>
<polygon points="1436,748 1571.1,742.5 1661,734 1570.7,736.2" fill="#2aa070" opacity="0.11"/>
<polygon points="604,1464 568.5,1598.5 550,1689 574.5,1599.9" fill="#2fa38a" opacity="0.30"/>
<polygon points="47,1204 -155.5,1298.2 -288,1366 -152.6,1304.2" fill="#3aa070" opacity="0.35"/>
<polygon points="1460,141 1691.3,-69.8 1844,-213 1688.9,-72.4" fill="#39a35a" opacity="0.21"/>
<polygon points="91,1390 -83.7,1513.6 -199,1597 -82.7,1515.1" fill="#39a35a" opacity="0.30"/>
<polygon points="1549,1173 1740.2,1234.2 1869,1272 1741.1,1231.1" fill="#2fa38a" opacity="0.10"/>
<polygon points="382,1544 337.9,1612.8 312,1661 342.1,1615.3" fill="#39a35a" opacity="0.28"/>
<polygon points="55,417 -89.2,339.0 -187,291 -91.3,343.0" fill="#39a35a" opacity="0.09"/>
<polygon points="1128,62 1212.6,-83.0 1267,-181 1209.5,-84.8" fill="#2b9a8a" opacity="0.07"/>
<polygon points="1378,1534 1552.9,1720.5 1673,1842 1556.6,1716.9" fill="#2aa070" opacity="0.39"/>
<polygon points="151,844 67.1,848.1 12,854 67.3,851.5" fill="#3aa070" opacity="0.14"/>
<polygon points="1006,1416 1080.2,1595.6 1135,1713 1086.6,1592.8" fill="#39a35a" opacity="0.08"/>
<polygon points="160,908 37.2,926.1 -44,943 38.1,931.4" fill="#3aa070" opacity="0.06"/>
<polygon points="175,1311 34.2,1404.2 -58,1469 36.7,1407.9" fill="#3040a8" opacity="0.29"/>
<polygon points="60,699 -16.6,679.5 -68,671 -17.9,685.1" fill="#2fb07a" opacity="0.09"/>
<polygon points="252,693 71.2,624.5 -50,580 70.8,625.7" fill="#2fa38a" opacity="0.20"/>
<polygon points="379,1544 280.9,1701.6 218,1809 284.1,1703.6" fill="#39a35a" opacity="0.11"/>
<polygon points="405,1005 192.7,1104.1 52,1173 194.4,1107.6" fill="#3040a8" opacity="0.26"/>
<polygon points="1539,459 1701.1,397.9 1807,351 1698.2,390.7" fill="#3444a0" opacity="0.15"/>
<polygon points="659,1210 636.5,1293.1 626,1349 642.1,1294.4" fill="#2fa38a" opacity="0.27"/>
<polygon points="699,1416 688.1,1486.5 685,1534 693.1,1487.1" fill="#2aa070" opacity="0.08"/>
<polygon points="1502,1496 1602.8,1584.1 1672,1641 1604.7,1581.9" fill="#2fb07a" opacity="0.70"/>
<polygon points="1123,774 1244.3,750.4 1325,733 1244.0,749.1" fill="#3040a8" opacity="0.20"/>
<polygon points="304,1325 198.2,1426.0 131,1497 202.1,1429.8" fill="#2fb07a" opacity="0.13"/>
<polygon points="1446,1163 1593.7,1246.7 1694,1299 1596.1,1242.2" fill="#3040a8" opacity="0.28"/>
<polygon points="695,1190 673.6,1342.9 661,1445 675.7,1343.2" fill="#3040a8" opacity="0.24"/>
<polygon points="1470,1527 1596.6,1659.5 1683,1746 1599.0,1657.1" fill="#2fb07a" opacity="0.51"/>
<polygon points="1390,-17 1531.8,-238.1 1624,-387 1529.0,-239.9" fill="#2aa070" opacity="0.18"/>
<polygon points="1077,-44 1171.9,-315.1 1233,-497 1169.7,-315.8" fill="#2fb07a" opacity="0.03"/>
<polygon points="1545,913 1691.3,924.1 1789,926 1691.7,917.3" fill="#3040a8" opacity="0.15"/>
<polygon points="1124,1549 1217.8,1733.0 1283,1854 1221.3,1731.2" fill="#2aa070" opacity="0.53"/>
<polygon points="1295,1488 1389.2,1606.6 1453,1684 1390.9,1605.2" fill="#2fa38a" opacity="0.55"/>
<polygon points="1509,210 1680.5,43.6 1792,-70 1677.2,40.3" fill="#39a35a" opacity="0.15"/>
<polygon points="902,1284 924.4,1370.4 943,1427 929.2,1369.0" fill="#39a35a" opacity="0.22"/>
<polygon points="1165,1490 1222.0,1583.3 1262,1644 1225.0,1581.4" fill="#3aa070" opacity="0.27"/>
<polygon points="152,1451 -12.0,1632.4 -117,1757 -6.4,1637.3" fill="#2b9a8a" opacity="0.13"/>
<polygon points="1498,1536 1593.9,1642.7 1663,1709 1599.8,1637.1" fill="#2fa38a" opacity="0.54"/>
<polygon points="1068,1480 1092.4,1532.4 1114,1564 1098.9,1528.9" fill="#2aa070" opacity="0.09"/>
<polygon points="350,272 270.6,164.1 216,94 267.7,166.3" fill="#2b9a8a" opacity="0.05"/>
<polygon points="-15,-18 -244.2,-272.4 -399,-441 -245.7,-271.0" fill="#3aa070" opacity="0.11"/>
<polygon points="754,1425 756.4,1624.3 760,1757 758.5,1624.2" fill="#39a35a" opacity="0.16"/>
<polygon points="151,1003 77.7,1018.4 30,1033 79.2,1024.2" fill="#2aa070" opacity="0.19"/>
<polygon points="967,1434 991.1,1496.8 1010,1537 994.6,1495.4" fill="#2aa070" opacity="0.28"/>
<polygon points="333,1369 287.9,1424.2 260,1463 290.9,1426.4" fill="#3444a0" opacity="0.55"/>
<polygon points="68,380 -49.4,298.0 -129,245 -50.9,300.2" fill="#2b9a8a" opacity="0.29"/>
<polygon points="1494,1366 1649.1,1479.0 1756,1550 1652.8,1473.6" fill="#3aa070" opacity="0.16"/>
<polygon points="850,408 881.3,223.7 898,100 876.2,223.0" fill="#4aa860" opacity="0.03"/>
<polygon points="407,1486 310.9,1656.8 252,1774 316.9,1660.0" fill="#4aa860" opacity="0.54"/>
<polygon points="1339,648 1438.2,621.6 1503,600 1436.8,616.6" fill="#3aa070" opacity="0.33"/>
<polygon points="1308,477 1496.7,369.1 1621,294 1494.4,365.1" fill="#39a35a" opacity="0.29"/>
<polygon points="1267,651 1349.5,620.8 1403,596 1347.3,615.4" fill="#3444a0" opacity="0.07"/>
<polygon points="1476,875 1580.2,877.7 1650,874 1580.2,870.5" fill="#39a35a" opacity="0.13"/>
<polygon points="371,1286 196.6,1493.3 82,1633 198.8,1495.1" fill="#39a35a" opacity="0.31"/>
<polygon points="1530,894 1682.7,895.0 1784,890 1682.6,887.9" fill="#2fb07a" opacity="0.41"/>
<polygon points="186,925 11.8,943.8 -104,959 12.1,946.7" fill="#2b9a8a" opacity="0.19"/>
<polygon points="1221,701 1377.2,639.2 1480,595 1376.1,636.5" fill="#2aa070" opacity="0.29"/>
<polygon points="455,1084 377.2,1135.5 327,1172 378.8,1137.8" fill="#3040a8" opacity="0.31"/>
<polygon points="326,230 199.2,45.6 110,-74 193.9,49.3" fill="#4aa860" opacity="0.15"/>
<polygon points="1470,1007 1570.8,1036.4 1639,1051 1572.4,1030.3" fill="#39a35a" opacity="0.32"/>
<polygon points="400,1101 333.9,1149.9 291,1184 335.3,1151.8" fill="#2aa070" opacity="0.14"/>
<polygon points="1048,880 1219.6,909.7 1334,928 1219.8,908.5" fill="#4aa860" opacity="0.22"/>
<polygon points="1420,1496 1543.0,1606.0 1629,1674 1548.0,1600.1" fill="#3444a0" opacity="0.64"/>
<polygon points="1301,1286 1472.8,1421.3 1589,1509 1475.4,1417.9" fill="#2fb07a" opacity="0.35"/>
<polygon points="1512,1168 1684.9,1229.1 1801,1265 1686.8,1223.4" fill="#4aa860" opacity="0.27"/>
<polygon points="1071,18 1108.2,-65.8 1128,-124 1101.8,-68.3" fill="#2aa070" opacity="0.07"/>
<polygon points="680,1216 671.0,1281.8 669,1326 675.7,1282.3" fill="#3444a0" opacity="0.14"/>
<polygon points="134,900 -29.8,898.6 -139,903 -29.7,905.0" fill="#3444a0" opacity="0.20"/>
<polygon points="1285,1463 1358.1,1545.2 1409,1598 1360.6,1543.0" fill="#2b9a8a" opacity="0.17"/>
<polygon points="811,1108 828.4,1181.8 842,1230 831.7,1181.0" fill="#3aa070" opacity="0.11"/>
<polygon points="1096,1327 1215.3,1508.3 1296,1628 1217.0,1507.2" fill="#3444a0" opacity="0.37"/>
<polygon points="230,1429 64.6,1605.5 -44,1725 67.0,1607.7" fill="#3aa070" opacity="0.58"/>
<polygon points="101,500 35.1,468.1 -11,451 32.8,473.3" fill="#2b9a8a" opacity="0.13"/>
<polygon points="1475,38 1593.6,-102.1 1670,-197 1590.9,-104.3" fill="#4aa860" opacity="0.12"/>
<polygon points="234,1199 22.8,1343.6 -115,1444 26.1,1348.2" fill="#3444a0" opacity="0.32"/>
<polygon points="1499,278 1604.9,195.0 1671,135 1600.2,189.4" fill="#3040a8" opacity="0.30"/>
<polygon points="53,966 -71.1,977.8 -153,991 -70.4,983.7" fill="#3aa070" opacity="0.22"/>
<polygon points="1460,803 1628.0,798.7 1739,790 1627.7,791.9" fill="#39a35a" opacity="0.23"/>
<polygon points="1302,926 1425.7,940.4 1509,947 1426.1,936.7" fill="#3040a8" opacity="0.10"/>
<polygon points="376,1265 244.6,1388.5 158,1473 246.3,1390.3" fill="#3040a8" opacity="0.18"/>
<polygon points="615,417 579.6,313.3 553,245 575.5,314.8" fill="#2aa070" opacity="0.02"/>
<polygon points="645,230 640.1,147.0 633,92 636.0,147.4" fill="#3040a8" opacity="0.02"/>
<polygon points="125,660 18.8,622.8 -53,602 17.5,627.0" fill="#2b9a8a" opacity="0.05"/>
<polygon points="762,381 752.7,139.2 745,-22 750.9,139.3" fill="#2aa070" opacity="0.02"/>
<polygon points="704,1344 695.7,1537.2 695,1666 701.0,1537.4" fill="#3aa070" opacity="0.16"/>
<polygon points="742,26 748.8,-152.3 747,-271 741.3,-152.4" fill="#2b9a8a" opacity="0.02"/>
<polygon points="1149,1530 1240.0,1718.8 1306,1842 1246.4,1715.6" fill="#2fa38a" opacity="0.11"/>
<polygon points="698,1161 661.0,1347.8 640,1473 665.4,1348.7" fill="#3aa070" opacity="0.22"/>
<polygon points="718,1267 691.4,1466.3 677,1599 695.5,1466.8" fill="#3040a8" opacity="0.22"/>
<polygon points="179,1107 -20.2,1212.6 -152,1284 -19.3,1214.4" fill="#2fa38a" opacity="0.34"/>
<polygon points="1167,1283 1283.5,1412.9 1364,1497 1286.6,1410.1" fill="#4aa860" opacity="0.43"/>
<polygon points="172,1151 49.9,1205.0 -31,1243 51.0,1207.5" fill="#3040a8" opacity="0.10"/>
<polygon points="255,1383 156.9,1501.1 95,1583 162.0,1505.3" fill="#2fa38a" opacity="0.30"/>
<polygon points="479,1318 393.2,1483.2 341,1596 399.0,1486.1" fill="#3040a8" opacity="0.29"/>
<polygon points="1178,1257 1360.9,1454.9 1485,1584 1364.0,1451.9" fill="#2b9a8a" opacity="0.37"/>
<polygon points="646,164 600.8,-33.8 568,-165 598.1,-33.2" fill="#2fb07a" opacity="0.09"/>
<polygon points="1111,781 1337.2,735.3 1487,701 1336.1,730.5" fill="#3aa070" opacity="0.07"/>
<polygon points="1028,1224 1111.3,1346.6 1168,1428 1112.6,1345.7" fill="#3040a8" opacity="0.29"/>
<polygon points="97,849 3.7,851.8 -58,856 3.9,854.2" fill="#2fa38a" opacity="0.18"/>
<polygon points="1127,1129 1295.2,1271.6 1409,1364 1298.0,1268.2" fill="#3444a0" opacity="0.41"/>
<polygon points="1522,689 1621.2,667.8 1686,649 1620.0,662.8" fill="#2fa38a" opacity="0.10"/>
<polygon points="1464,1427 1650.2,1605.8 1778,1721 1654.4,1601.4" fill="#2aa070" opacity="0.21"/>
<polygon points="1505,204 1637.5,108.0 1723,41 1634.6,104.1" fill="#3aa070" opacity="0.14"/>
<polygon points="999,1318 1078.9,1465.4 1135,1562 1082.4,1463.4" fill="#3444a0" opacity="0.19"/>
<polygon points="1319,401 1434.3,362.3 1510,333 1432.9,358.1" fill="#2f9f88" opacity="0.50"/>
<polygon points="1298,476 1401.6,450.5 1470,431 1400.8,447.5" fill="#2fa070" opacity="0.40"/>
<polygon points="1293,599 1423.6,574.0 1510,554 1422.8,570.0" fill="#2f9a8a" opacity="0.45"/>
<polygon points="1255,727 1378.4,693.1 1460,668 1377.6,690.1" fill="#3aa060" opacity="0.35"/>
<polygon points="1330,520 1438.3,497.2 1510,480 1437.7,494.8" fill="#3444a0" opacity="0.40"/>
<polygon points="0,887 128.1,872.8 213,860 127.5,868.8" fill="#2f9f88" opacity="0.40"/>
<polygon points="50,1083 148.4,1053.1 213,1030 147.2,1049.3" fill="#39a35a" opacity="0.45"/>
<polygon points="0,985 120.2,968.2 200,955 119.8,965.8" fill="#2b9a8a" opacity="0.30"/>
</g>
<text x="148.86" y="181.70" font-size="67.44" font-weight="bold" textLength="370.88" lengthAdjust="spacingAndGlyphs" fill="url(#gTitle)" stroke="url(#gTitle)" stroke-width="2.60" stroke-linejoin="round" paint-order="stroke" >FC-E1500</text>
<text x="545.80" y="181.70" font-size="67.44" font-weight="bold" textLength="373.26" lengthAdjust="spacingAndGlyphs" fill="url(#gTitle)" stroke="url(#gTitle)" stroke-width="2.60" stroke-linejoin="round" paint-order="stroke" >UNIFORM</text>
<text x="944.09" y="181.70" font-size="67.44" font-weight="bold" textLength="207.57" lengthAdjust="spacingAndGlyphs" fill="url(#gTitle)" stroke="url(#gTitle)" stroke-width="2.60" stroke-linejoin="round" paint-order="stroke" >PPFD</text>
<text x="1176.02" y="181.70" font-size="67.44" font-weight="bold" textLength="175.38" lengthAdjust="spacingAndGlyphs" fill="url(#gTitle)" stroke="url(#gTitle)" stroke-width="2.60" stroke-linejoin="round" paint-order="stroke" >MAP</text>
<text x="107.65" y="277.70" font-size="44.62" font-weight="normal" textLength="112.56" lengthAdjust="spacingAndGlyphs" fill="#ffffff" >Even</text>
<text x="233.17" y="277.70" font-size="44.62" font-weight="normal" textLength="104.25" lengthAdjust="spacingAndGlyphs" fill="#ffffff" >light</text>
<text x="349.30" y="277.70" font-size="44.62" font-weight="normal" textLength="280.63" lengthAdjust="spacingAndGlyphs" fill="#ffffff" >distribution,</text>
<text x="640.45" y="277.70" font-size="44.62" font-weight="normal" textLength="245.11" lengthAdjust="spacingAndGlyphs" fill="#ffffff" >promoting</text>
<text x="898.81" y="277.70" font-size="44.62" font-weight="normal" textLength="184.44" lengthAdjust="spacingAndGlyphs" fill="#ffffff" >uniform</text>
<text x="1095.50" y="277.70" font-size="44.62" font-weight="normal" textLength="117.90" lengthAdjust="spacingAndGlyphs" fill="#ffffff" >plant</text>
<text x="1225.64" y="277.70" font-size="44.62" font-weight="normal" textLength="169.02" lengthAdjust="spacingAndGlyphs" fill="#ffffff" >growth</text>
<text x="266.22" y="454.15" font-size="31.25" font-weight="bold" textLength="161.59" lengthAdjust="spacingAndGlyphs" fill="url(#gLabel)" stroke="url(#gLabel)" stroke-width="1.30" stroke-linejoin="round" paint-order="stroke" >Seedling:</text>
<text x="680.72" y="452.05" font-size="29.22" font-weight="bold" textLength="186.94" lengthAdjust="spacingAndGlyphs" fill="url(#gLabel)" stroke="url(#gLabel)" stroke-width="1.30" stroke-linejoin="round" paint-order="stroke" >Vegetation:</text>
<text x="1091.20" y="454.35" font-size="31.54" font-weight="bold" textLength="130.17" lengthAdjust="spacingAndGlyphs" fill="url(#gLabel)" stroke="url(#gLabel)" stroke-width="1.30" stroke-linejoin="round" paint-order="stroke" >Flower:</text>
<rect x="265.0" y="470.0" width="190.0" height="65.0" rx="9.0" fill="#f0b020" opacity="0.75" filter="url(#glow)"/>
<clipPath id="c_s"><rect x="267.0" y="472.0" width="186.0" height="61.0" rx="9.0"/></clipPath>
<rect x="267.0" y="472.0" width="186.0" height="61.0" rx="9.0" fill="url(#gSeed)"/>
<g clip-path="url(#c_s)"><rect x="267.0" y="472.0" width="186.0" height="61.0" rx="9.0" fill="none" stroke="#fff0a0" stroke-width="5" opacity="0.8" filter="url(#inner)"/></g>
<rect x="679.0" y="468.0" width="190.0" height="65.0" rx="9.0" fill="#ffb000" opacity="0.75" filter="url(#glow)"/>
<clipPath id="c_v"><rect x="681.0" y="470.0" width="186.0" height="61.0" rx="9.0"/></clipPath>
<rect x="681.0" y="470.0" width="186.0" height="61.0" rx="9.0" fill="url(#gVeg)"/>
<g clip-path="url(#c_v)"><rect x="681.0" y="470.0" width="186.0" height="61.0" rx="9.0" fill="none" stroke="#ffe080" stroke-width="5" opacity="0.8" filter="url(#inner)"/></g>
<rect x="1090.0" y="470.0" width="190.0" height="65.0" rx="9.0" fill="#ffa000" opacity="0.75" filter="url(#glow)"/>
<clipPath id="c_f"><rect x="1092.0" y="472.0" width="186.0" height="61.0" rx="9.0"/></clipPath>
<rect x="1092.0" y="472.0" width="186.0" height="61.0" rx="9.0" fill="url(#gFlw)"/>
<g clip-path="url(#c_f)"><rect x="1092.0" y="472.0" width="186.0" height="61.0" rx="9.0" fill="none" stroke="#ffb070" stroke-width="5" opacity="0.8" filter="url(#inner)"/></g>
<text x="264.85" y="574.37" font-size="42.71" font-weight="bold" textLength="192.45" lengthAdjust="spacingAndGlyphs" fill="#ffffff" stroke="#ffffff" stroke-width="1.70" stroke-linejoin="round" paint-order="stroke" >100-300</text>
<text x="682.38" y="573.06" font-size="39.97" font-weight="bold" textLength="187.16" lengthAdjust="spacingAndGlyphs" fill="#ffffff" stroke="#ffffff" stroke-width="1.70" stroke-linejoin="round" paint-order="stroke" >400-600</text>
<text x="1090.43" y="569.78" font-size="38.14" font-weight="bold" textLength="189.56" lengthAdjust="spacingAndGlyphs" fill="#ffffff" stroke="#ffffff" stroke-width="1.70" stroke-linejoin="round" paint-order="stroke" >800-1000</text>
<text x="267.02" y="607.80" font-size="31.40" font-weight="bold" textLength="187.96" lengthAdjust="spacingAndGlyphs" fill="#ffffff" stroke="#ffffff" stroke-width="1.00" stroke-linejoin="round" paint-order="stroke" >µMol/m2/S</text>
<text x="681.02" y="610.50" font-size="31.54" font-weight="bold" textLength="188.26" lengthAdjust="spacingAndGlyphs" fill="#ffffff" stroke="#ffffff" stroke-width="1.00" stroke-linejoin="round" paint-order="stroke" >µMol/m2/S</text>
<text x="1089.71" y="609.50" font-size="30.96" font-weight="bold" textLength="188.98" lengthAdjust="spacingAndGlyphs" fill="#ffffff" stroke="#ffffff" stroke-width="1.00" stroke-linejoin="round" paint-order="stroke" >µMol/m2/S</text>
<rect x="205.0" y="743" width="201" height="53" rx="22" fill="url(#gBadge)"/>
<text x="226.90" y="778.40" font-size="29.65" font-weight="bold" textLength="149.83" lengthAdjust="spacingAndGlyphs" fill="#111111" stroke="#111111" stroke-width="0.60" stroke-linejoin="round" paint-order="stroke" >Height: 8”</text>
<rect x="182.0" y="820" width="2" height="497" fill="#a8acac"/>
<rect x="183.0" y="1316" width="491.0" height="2" fill="#a8acac"/>
<circle cx="183.5" cy="1315.5" r="8.5" fill="#ffffff"/>
<text x="80.87" y="836.57" font-size="23.59" font-weight="normal" textLength="63.79" lengthAdjust="spacingAndGlyphs" fill="#ffffff" >2.0FT</text>
<polygon points="161.0,826.5 171.5,821.0 171.5,832.0" fill="#ffffff"/>
<text x="115.82" y="969.57" font-size="23.79" font-weight="normal" textLength="28.85" lengthAdjust="spacingAndGlyphs" fill="#ffffff" >1.5</text>
<polygon points="161.0,961.5 171.5,956.0 171.5,967.0" fill="#ffffff"/>
<text x="113.92" y="1103.57" font-size="23.73" font-weight="normal" textLength="30.75" lengthAdjust="spacingAndGlyphs" fill="#ffffff" >1.0</text>
<polygon points="161.0,1096.5 171.5,1091.0 171.5,1102.0" fill="#ffffff"/>
<text x="110.12" y="1244.87" font-size="23.87" font-weight="normal" textLength="34.72" lengthAdjust="spacingAndGlyphs" fill="#ffffff" >0.5</text>
<polygon points="161.0,1231.5 171.5,1226.0 171.5,1237.0" fill="#ffffff"/>
<text x="128.87" y="1327.57" font-size="23.16" font-weight="normal" textLength="16.06" lengthAdjust="spacingAndGlyphs" fill="#ffffff" >0</text>
<polygon points="257.5,1326.2 268.5,1326.2 263.0,1336.8" fill="#ffffff"/>
<polygon points="392.5,1326.2 403.5,1326.2 398.0,1336.8" fill="#ffffff"/>
<polygon points="527.5,1326.2 538.5,1326.2 533.0,1336.8" fill="#ffffff"/>
<polygon points="663.0,1326.2 674.0,1326.2 668.5,1336.8" fill="#ffffff"/>
<text x="245.02" y="1368.47" font-size="23.59" font-weight="normal" textLength="34.72" lengthAdjust="spacingAndGlyphs" fill="#ffffff" >0.5</text>
<text x="381.59" y="1368.47" font-size="23.59" font-weight="normal" textLength="31.29" lengthAdjust="spacingAndGlyphs" fill="#ffffff" >1.0</text>
<text x="518.92" y="1368.47" font-size="23.93" font-weight="normal" textLength="28.85" lengthAdjust="spacingAndGlyphs" fill="#ffffff" >1.5</text>
<text x="637.36" y="1368.77" font-size="24.01" font-weight="normal" textLength="64.20" lengthAdjust="spacingAndGlyphs" fill="#ffffff" >2.0FT</text>
<rect x="216.0" y="832.0" width="107" height="107" rx="16" fill="#ffb000" opacity="0.7" filter="url(#glow)"/>
<rect x="329.0" y="832.0" width="107" height="107" rx="16" fill="#ffb000" opacity="0.7" filter="url(#glow)"/>
<rect x="442.0" y="832.0" width="107" height="107" rx="16" fill="#ffb000" opacity="0.7" filter="url(#glow)"/>
<rect x="555.0" y="832.0" width="107" height="107" rx="16" fill="#ffb000" opacity="0.7" filter="url(#glow)"/>
<rect x="216.0" y="947.0" width="107" height="107" rx="16" fill="#ffb000" opacity="0.7" filter="url(#glow)"/>
<rect x="329.0" y="947.0" width="107" height="107" rx="16" fill="#ffa000" opacity="0.7" filter="url(#glow)"/>
<rect x="442.0" y="947.0" width="107" height="107" rx="16" fill="#ffa000" opacity="0.7" filter="url(#glow)"/>
<rect x="555.0" y="947.0" width="107" height="107" rx="16" fill="#ffb000" opacity="0.7" filter="url(#glow)"/>
<rect x="216.0" y="1062.0" width="107" height="107" rx="16" fill="#ffb000" opacity="0.7" filter="url(#glow)"/>
<rect x="329.0" y="1062.0" width="107" height="107" rx="16" fill="#ffa000" opacity="0.7" filter="url(#glow)"/>
<rect x="442.0" y="1062.0" width="107" height="107" rx="16" fill="#ffa000" opacity="0.7" filter="url(#glow)"/>
<rect x="555.0" y="1062.0" width="107" height="107" rx="16" fill="#ffb000" opacity="0.7" filter="url(#glow)"/>
<rect x="216.0" y="1177.0" width="107" height="107" rx="16" fill="#ffb000" opacity="0.7" filter="url(#glow)"/>
<rect x="329.0" y="1177.0" width="107" height="107" rx="16" fill="#ffb000" opacity="0.7" filter="url(#glow)"/>
<rect x="442.0" y="1177.0" width="107" height="107" rx="16" fill="#ffb000" opacity="0.7" filter="url(#glow)"/>
<rect x="555.0" y="1177.0" width="107" height="107" rx="16" fill="#ffb000" opacity="0.7" filter="url(#glow)"/>
<clipPath id="cl0_0_0"><rect x="218.0" y="834.0" width="103" height="103" rx="15"/></clipPath>
<rect x="218.0" y="834.0" width="103" height="103" rx="15" fill="url(#gOr)"/>
<g clip-path="url(#cl0_0_0)"><rect x="218.0" y="834.0" width="103" height="103" rx="15" fill="none" stroke="#ffd070" stroke-width="6" opacity="0.85" filter="url(#inner)"/></g>
<text x="235.73" y="900.30" font-size="35.73" font-weight="bold" textLength="67.87" lengthAdjust="spacingAndGlyphs" fill="#3d2a0c" stroke="#3d2a0c" stroke-width="0.70" stroke-linejoin="round" paint-order="stroke" >498</text>
<clipPath id="cl0_0_1"><rect x="331.0" y="834.0" width="103" height="103" rx="15"/></clipPath>
<rect x="331.0" y="834.0" width="103" height="103" rx="15" fill="url(#gOr)"/>
<g clip-path="url(#cl0_0_1)"><rect x="331.0" y="834.0" width="103" height="103" rx="15" fill="none" stroke="#ffd070" stroke-width="6" opacity="0.85" filter="url(#inner)"/></g>
<text x="348.32" y="900.30" font-size="35.73" font-weight="bold" textLength="68.65" lengthAdjust="spacingAndGlyphs" fill="#3d2a0c" stroke="#3d2a0c" stroke-width="0.70" stroke-linejoin="round" paint-order="stroke" >904</text>
<clipPath id="cl0_0_2"><rect x="444.0" y="834.0" width="103" height="103" rx="15"/></clipPath>
<rect x="444.0" y="834.0" width="103" height="103" rx="15" fill="url(#gOr)"/>
<g clip-path="url(#cl0_0_2)"><rect x="444.0" y="834.0" width="103" height="103" rx="15" fill="none" stroke="#ffd070" stroke-width="6" opacity="0.85" filter="url(#inner)"/></g>
<text x="461.54" y="900.30" font-size="35.73" font-weight="bold" textLength="67.79" lengthAdjust="spacingAndGlyphs" fill="#3d2a0c" stroke="#3d2a0c" stroke-width="0.70" stroke-linejoin="round" paint-order="stroke" >907</text>
<clipPath id="cl0_0_3"><rect x="557.0" y="834.0" width="103" height="103" rx="15"/></clipPath>
<rect x="557.0" y="834.0" width="103" height="103" rx="15" fill="url(#gOr)"/>
<g clip-path="url(#cl0_0_3)"><rect x="557.0" y="834.0" width="103" height="103" rx="15" fill="none" stroke="#ffd070" stroke-width="6" opacity="0.85" filter="url(#inner)"/></g>
<text x="575.74" y="900.30" font-size="35.73" font-weight="bold" textLength="66.85" lengthAdjust="spacingAndGlyphs" fill="#3d2a0c" stroke="#3d2a0c" stroke-width="0.70" stroke-linejoin="round" paint-order="stroke" >496</text>
<clipPath id="cl0_1_0"><rect x="218.0" y="949.0" width="103" height="103" rx="15"/></clipPath>
<rect x="218.0" y="949.0" width="103" height="103" rx="15" fill="url(#gOr)"/>
<g clip-path="url(#cl0_1_0)"><rect x="218.0" y="949.0" width="103" height="103" rx="15" fill="none" stroke="#ffd070" stroke-width="6" opacity="0.85" filter="url(#inner)"/></g>
<text x="236.39" y="1015.30" font-size="35.73" font-weight="bold" textLength="66.49" lengthAdjust="spacingAndGlyphs" fill="#3d2a0c" stroke="#3d2a0c" stroke-width="0.70" stroke-linejoin="round" paint-order="stroke" >698</text>
<clipPath id="cl0_1_1"><rect x="331.0" y="949.0" width="103" height="103" rx="15"/></clipPath>
<rect x="331.0" y="949.0" width="103" height="103" rx="15" fill="url(#gRd)"/>
<g clip-path="url(#cl0_1_1)"><rect x="331.0" y="949.0" width="103" height="103" rx="15" fill="none" stroke="#ffa070" stroke-width="6" opacity="0.85" filter="url(#inner)"/></g>
<text x="343.48" y="1015.30" font-size="35.73" font-weight="bold" textLength="76.52" lengthAdjust="spacingAndGlyphs" fill="#3a1707" stroke="#3a1707" stroke-width="0.70" stroke-linejoin="round" paint-order="stroke" >1258</text>
<clipPath id="cl0_1_2"><rect x="444.0" y="949.0" width="103" height="103" rx="15"/></clipPath>
<rect x="444.0" y="949.0" width="103" height="103" rx="15" fill="url(#gRd)"/>
<g clip-path="url(#cl0_1_2)"><rect x="444.0" y="949.0" width="103" height="103" rx="15" fill="none" stroke="#ffa070" stroke-width="6" opacity="0.85" filter="url(#inner)"/></g>
<text x="456.39" y="1015.30" font-size="35.73" font-weight="bold" textLength="76.27" lengthAdjust="spacingAndGlyphs" fill="#3a1707" stroke="#3a1707" stroke-width="0.70" stroke-linejoin="round" paint-order="stroke" >1257</text>
<clipPath id="cl0_1_3"><rect x="557.0" y="949.0" width="103" height="103" rx="15"/></clipPath>
<rect x="557.0" y="949.0" width="103" height="103" rx="15" fill="url(#gOr)"/>
<g clip-path="url(#cl0_1_3)"><rect x="557.0" y="949.0" width="103" height="103" rx="15" fill="none" stroke="#ffd070" stroke-width="6" opacity="0.85" filter="url(#inner)"/></g>
<text x="576.61" y="1015.30" font-size="35.73" font-weight="bold" textLength="65.57" lengthAdjust="spacingAndGlyphs" fill="#3d2a0c" stroke="#3d2a0c" stroke-width="0.70" stroke-linejoin="round" paint-order="stroke" >697</text>
<clipPath id="cl0_2_0"><rect x="218.0" y="1064.0" width="103" height="103" rx="15"/></clipPath>
<rect x="218.0" y="1064.0" width="103" height="103" rx="15" fill="url(#gOr)"/>
<g clip-path="url(#cl0_2_0)"><rect x="218.0" y="1064.0" width="103" height="103" rx="15" fill="none" stroke="#ffd070" stroke-width="6" opacity="0.85" filter="url(#inner)"/></g>
<text x="237.14" y="1129.30" font-size="35.73" font-weight="bold" textLength="64.08" lengthAdjust="spacingAndGlyphs" fill="#3d2a0c" stroke="#3d2a0c" stroke-width="0.70" stroke-linejoin="round" paint-order="stroke" >695</text>
<clipPath id="cl0_2_1"><rect x="331.0" y="1064.0" width="103" height="103" rx="15"/></clipPath>
<rect x="331.0" y="1064.0" width="103" height="103" rx="15" fill="url(#gRd)"/>
<g clip-path="url(#cl0_2_1)"><rect x="331.0" y="1064.0" width="103" height="103" rx="15" fill="none" stroke="#ffa070" stroke-width="6" opacity="0.85" filter="url(#inner)"/></g>
<text x="344.27" y="1129.30" font-size="35.73" font-weight="bold" textLength="73.40" lengthAdjust="spacingAndGlyphs" fill="#3a1707" stroke="#3a1707" stroke-width="0.70" stroke-linejoin="round" paint-order="stroke" >1255</text>
<clipPath id="cl0_2_2"><rect x="444.0" y="1064.0" width="103" height="103" rx="15"/></clipPath>
<rect x="444.0" y="1064.0" width="103" height="103" rx="15" fill="url(#gRd)"/>
<g clip-path="url(#cl0_2_2)"><rect x="444.0" y="1064.0" width="103" height="103" rx="15" fill="none" stroke="#ffa070" stroke-width="6" opacity="0.85" filter="url(#inner)"/></g>
<text x="456.40" y="1129.30" font-size="35.73" font-weight="bold" textLength="76.02" lengthAdjust="spacingAndGlyphs" fill="#3a1707" stroke="#3a1707" stroke-width="0.70" stroke-linejoin="round" paint-order="stroke" >1259</text>
<clipPath id="cl0_2_3"><rect x="557.0" y="1064.0" width="103" height="103" rx="15"/></clipPath>
<rect x="557.0" y="1064.0" width="103" height="103" rx="15" fill="url(#gOr)"/>
<g clip-path="url(#cl0_2_3)"><rect x="557.0" y="1064.0" width="103" height="103" rx="15" fill="none" stroke="#ffd070" stroke-width="6" opacity="0.85" filter="url(#inner)"/></g>
<text x="574.59" y="1129.30" font-size="35.73" font-weight="bold" textLength="68.23" lengthAdjust="spacingAndGlyphs" fill="#3d2a0c" stroke="#3d2a0c" stroke-width="0.70" stroke-linejoin="round" paint-order="stroke" >700</text>
<clipPath id="cl0_3_0"><rect x="218.0" y="1179.0" width="103" height="103" rx="15"/></clipPath>
<rect x="218.0" y="1179.0" width="103" height="103" rx="15" fill="url(#gOr)"/>
<g clip-path="url(#cl0_3_0)"><rect x="218.0" y="1179.0" width="103" height="103" rx="15" fill="none" stroke="#ffd070" stroke-width="6" opacity="0.85" filter="url(#inner)"/></g>
<text x="235.03" y="1243.50" font-size="35.73" font-weight="bold" textLength="68.86" lengthAdjust="spacingAndGlyphs" fill="#3d2a0c" stroke="#3d2a0c" stroke-width="0.70" stroke-linejoin="round" paint-order="stroke" >499</text>
<clipPath id="cl0_3_1"><rect x="331.0" y="1179.0" width="103" height="103" rx="15"/></clipPath>
<rect x="331.0" y="1179.0" width="103" height="103" rx="15" fill="url(#gOr)"/>
<g clip-path="url(#cl0_3_1)"><rect x="331.0" y="1179.0" width="103" height="103" rx="15" fill="none" stroke="#ffd070" stroke-width="6" opacity="0.85" filter="url(#inner)"/></g>
<text x="348.63" y="1243.50" font-size="35.73" font-weight="bold" textLength="68.24" lengthAdjust="spacingAndGlyphs" fill="#3d2a0c" stroke="#3d2a0c" stroke-width="0.70" stroke-linejoin="round" paint-order="stroke" >909</text>
<clipPath id="cl0_3_2"><rect x="444.0" y="1179.0" width="103" height="103" rx="15"/></clipPath>
<rect x="444.0" y="1179.0" width="103" height="103" rx="15" fill="url(#gOr)"/>
<g clip-path="url(#cl0_3_2)"><rect x="444.0" y="1179.0" width="103" height="103" rx="15" fill="none" stroke="#ffd070" stroke-width="6" opacity="0.85" filter="url(#inner)"/></g>
<text x="462.97" y="1243.50" font-size="35.73" font-weight="bold" textLength="66.39" lengthAdjust="spacingAndGlyphs" fill="#3d2a0c" stroke="#3d2a0c" stroke-width="0.70" stroke-linejoin="round" paint-order="stroke" >905</text>
<clipPath id="cl0_3_3"><rect x="557.0" y="1179.0" width="103" height="103" rx="15"/></clipPath>
<rect x="557.0" y="1179.0" width="103" height="103" rx="15" fill="url(#gOr)"/>
<g clip-path="url(#cl0_3_3)"><rect x="557.0" y="1179.0" width="103" height="103" rx="15" fill="none" stroke="#ffd070" stroke-width="6" opacity="0.85" filter="url(#inner)"/></g>
<text x="573.72" y="1243.50" font-size="35.73" font-weight="bold" textLength="69.15" lengthAdjust="spacingAndGlyphs" fill="#3d2a0c" stroke="#3d2a0c" stroke-width="0.70" stroke-linejoin="round" paint-order="stroke" >494</text>
<circle cx="439.5" cy="1058.0" r="53" fill="#ffa828" opacity="1" filter="url(#glow2)"/>
<circle cx="439.5" cy="1058.0" r="46" fill="url(#gCirc)"/>
<text x="396.44" y="1072.86" font-size="34.46" font-weight="bold" textLength="83.42" lengthAdjust="spacingAndGlyphs" fill="#ffffff" stroke="#ffffff" stroke-width="1.60" stroke-linejoin="round" paint-order="stroke" >1406</text>
<rect x="934.0" y="743" width="201" height="53" rx="22" fill="url(#gBadge)"/>
<text x="956.98" y="778.40" font-size="29.65" font-weight="bold" textLength="160.96" lengthAdjust="spacingAndGlyphs" fill="#111111" stroke="#111111" stroke-width="0.60" stroke-linejoin="round" paint-order="stroke" >Height: 10”</text>
<rect x="912.0" y="820" width="2" height="497" fill="#a8acac"/>
<rect x="913.0" y="1316" width="491.0" height="2" fill="#a8acac"/>
<circle cx="913.5" cy="1315.5" r="8.5" fill="#ffffff"/>
<text x="810.87" y="836.57" font-size="23.59" font-weight="normal" textLength="63.79" lengthAdjust="spacingAndGlyphs" fill="#ffffff" >2.0FT</text>
<polygon points="891.0,826.5 901.5,821.0 901.5,832.0" fill="#ffffff"/>
<text x="845.82" y="969.57" font-size="23.79" font-weight="normal" textLength="28.85" lengthAdjust="spacingAndGlyphs" fill="#ffffff" >1.5</text>
<polygon points="891.0,961.5 901.5,956.0 901.5,967.0" fill="#ffffff"/>
<text x="843.92" y="1103.57" font-size="23.73" font-weight="normal" textLength="30.75" lengthAdjust="spacingAndGlyphs" fill="#ffffff" >1.0</text>
<polygon points="891.0,1096.5 901.5,1091.0 901.5,1102.0" fill="#ffffff"/>
<text x="840.12" y="1244.87" font-size="23.87" font-weight="normal" textLength="34.72" lengthAdjust="spacingAndGlyphs" fill="#ffffff" >0.5</text>
<polygon points="891.0,1231.5 901.5,1226.0 901.5,1237.0" fill="#ffffff"/>
<text x="858.87" y="1327.57" font-size="23.16" font-weight="normal" textLength="16.06" lengthAdjust="spacingAndGlyphs" fill="#ffffff" >0</text>
<polygon points="987.5,1326.2 998.5,1326.2 993.0,1336.8" fill="#ffffff"/>
<polygon points="1122.5,1326.2 1133.5,1326.2 1128.0,1336.8" fill="#ffffff"/>
<polygon points="1257.5,1326.2 1268.5,1326.2 1263.0,1336.8" fill="#ffffff"/>
<polygon points="1393.0,1326.2 1404.0,1326.2 1398.5,1336.8" fill="#ffffff"/>
<text x="975.02" y="1368.47" font-size="23.59" font-weight="normal" textLength="34.72" lengthAdjust="spacingAndGlyphs" fill="#ffffff" >0.5</text>
<text x="1111.59" y="1368.47" font-size="23.59" font-weight="normal" textLength="31.29" lengthAdjust="spacingAndGlyphs" fill="#ffffff" >1.0</text>
<text x="1248.92" y="1368.47" font-size="23.93" font-weight="normal" textLength="28.85" lengthAdjust="spacingAndGlyphs" fill="#ffffff" >1.5</text>
<text x="1367.36" y="1368.77" font-size="24.01" font-weight="normal" textLength="64.20" lengthAdjust="spacingAndGlyphs" fill="#ffffff" >2.0FT</text>
<rect x="946.0" y="832.0" width="107" height="107" rx="16" fill="#ffb000" opacity="0.7" filter="url(#glow)"/>
<rect x="1059.0" y="832.0" width="107" height="107" rx="16" fill="#ffb000" opacity="0.7" filter="url(#glow)"/>
<rect x="1172.0" y="832.0" width="107" height="107" rx="16" fill="#ffb000" opacity="0.7" filter="url(#glow)"/>
<rect x="1285.0" y="832.0" width="107" height="107" rx="16" fill="#ffb000" opacity="0.7" filter="url(#glow)"/>
<rect x="946.0" y="947.0" width="107" height="107" rx="16" fill="#ffb000" opacity="0.7" filter="url(#glow)"/>
<rect x="1059.0" y="947.0" width="107" height="107" rx="16" fill="#ffa000" opacity="0.7" filter="url(#glow)"/>
<rect x="1172.0" y="947.0" width="107" height="107" rx="16" fill="#ffa000" opacity="0.7" filter="url(#glow)"/>
<rect x="1285.0" y="947.0" width="107" height="107" rx="16" fill="#ffb000" opacity="0.7" filter="url(#glow)"/>
<rect x="946.0" y="1062.0" width="107" height="107" rx="16" fill="#ffb000" opacity="0.7" filter="url(#glow)"/>
<rect x="1059.0" y="1062.0" width="107" height="107" rx="16" fill="#ffa000" opacity="0.7" filter="url(#glow)"/>
<rect x="1172.0" y="1062.0" width="107" height="107" rx="16" fill="#ffa000" opacity="0.7" filter="url(#glow)"/>
<rect x="1285.0" y="1062.0" width="107" height="107" rx="16" fill="#ffb000" opacity="0.7" filter="url(#glow)"/>
<rect x="946.0" y="1177.0" width="107" height="107" rx="16" fill="#ffb000" opacity="0.7" filter="url(#glow)"/>
<rect x="1059.0" y="1177.0" width="107" height="107" rx="16" fill="#ffb000" opacity="0.7" filter="url(#glow)"/>
<rect x="1172.0" y="1177.0" width="107" height="107" rx="16" fill="#ffb000" opacity="0.7" filter="url(#glow)"/>
<rect x="1285.0" y="1177.0" width="107" height="107" rx="16" fill="#ffb000" opacity="0.7" filter="url(#glow)"/>
<clipPath id="cl730_0_0"><rect x="948.0" y="834.0" width="103" height="103" rx="15"/></clipPath>
<rect x="948.0" y="834.0" width="103" height="103" rx="15" fill="url(#gOr)"/>
<g clip-path="url(#cl730_0_0)"><rect x="948.0" y="834.0" width="103" height="103" rx="15" fill="none" stroke="#ffd070" stroke-width="6" opacity="0.85" filter="url(#inner)"/></g>
<text x="967.38" y="900.30" font-size="35.73" font-weight="bold" textLength="63.23" lengthAdjust="spacingAndGlyphs" fill="#3d2a0c" stroke="#3d2a0c" stroke-width="0.70" stroke-linejoin="round" paint-order="stroke" >528</text>
<clipPath id="cl730_0_1"><rect x="1061.0" y="834.0" width="103" height="103" rx="15"/></clipPath>
<rect x="1061.0" y="834.0" width="103" height="103" rx="15" fill="url(#gOr)"/>
<g clip-path="url(#cl730_0_1)"><rect x="1061.0" y="834.0" width="103" height="103" rx="15" fill="none" stroke="#ffd070" stroke-width="6" opacity="0.85" filter="url(#inner)"/></g>
<text x="1076.78" y="900.30" font-size="35.73" font-weight="bold" textLength="68.76" lengthAdjust="spacingAndGlyphs" fill="#3d2a0c" stroke="#3d2a0c" stroke-width="0.70" stroke-linejoin="round" paint-order="stroke" >780</text>
<clipPath id="cl730_0_2"><rect x="1174.0" y="834.0" width="103" height="103" rx="15"/></clipPath>
<rect x="1174.0" y="834.0" width="103" height="103" rx="15" fill="url(#gOr)"/>
<g clip-path="url(#cl730_0_2)"><rect x="1174.0" y="834.0" width="103" height="103" rx="15" fill="none" stroke="#ffd070" stroke-width="6" opacity="0.85" filter="url(#inner)"/></g>
<text x="1191.85" y="900.25" font-size="35.66" font-weight="bold" textLength="65.82" lengthAdjust="spacingAndGlyphs" fill="#3d2a0c" stroke="#3d2a0c" stroke-width="0.70" stroke-linejoin="round" paint-order="stroke" >783</text>
<clipPath id="cl730_0_3"><rect x="1287.0" y="834.0" width="103" height="103" rx="15"/></clipPath>
<rect x="1287.0" y="834.0" width="103" height="103" rx="15" fill="url(#gOr)"/>
<g clip-path="url(#cl730_0_3)"><rect x="1287.0" y="834.0" width="103" height="103" rx="15" fill="none" stroke="#ffd070" stroke-width="6" opacity="0.85" filter="url(#inner)"/></g>
<text x="1306.17" y="900.30" font-size="35.73" font-weight="bold" textLength="64.07" lengthAdjust="spacingAndGlyphs" fill="#3d2a0c" stroke="#3d2a0c" stroke-width="0.70" stroke-linejoin="round" paint-order="stroke" >526</text>
<clipPath id="cl730_1_0"><rect x="948.0" y="949.0" width="103" height="103" rx="15"/></clipPath>
<rect x="948.0" y="949.0" width="103" height="103" rx="15" fill="url(#gOr)"/>
<g clip-path="url(#cl730_1_0)"><rect x="948.0" y="949.0" width="103" height="103" rx="15" fill="none" stroke="#ffd070" stroke-width="6" opacity="0.85" filter="url(#inner)"/></g>
<text x="964.93" y="1015.30" font-size="35.73" font-weight="bold" textLength="69.12" lengthAdjust="spacingAndGlyphs" fill="#3d2a0c" stroke="#3d2a0c" stroke-width="0.70" stroke-linejoin="round" paint-order="stroke" >600</text>
<clipPath id="cl730_1_1"><rect x="1061.0" y="949.0" width="103" height="103" rx="15"/></clipPath>
<rect x="1061.0" y="949.0" width="103" height="103" rx="15" fill="url(#gRd)"/>
<g clip-path="url(#cl730_1_1)"><rect x="1061.0" y="949.0" width="103" height="103" rx="15" fill="none" stroke="#ffa070" stroke-width="6" opacity="0.85" filter="url(#inner)"/></g>
<text x="1070.37" y="1015.30" font-size="35.73" font-weight="bold" textLength="80.59" lengthAdjust="spacingAndGlyphs" fill="#3a1707" stroke="#3a1707" stroke-width="0.70" stroke-linejoin="round" paint-order="stroke" >1056</text>
<clipPath id="cl730_1_2"><rect x="1174.0" y="949.0" width="103" height="103" rx="15"/></clipPath>
<rect x="1174.0" y="949.0" width="103" height="103" rx="15" fill="url(#gRd)"/>
<g clip-path="url(#cl730_1_2)"><rect x="1174.0" y="949.0" width="103" height="103" rx="15" fill="none" stroke="#ffa070" stroke-width="6" opacity="0.85" filter="url(#inner)"/></g>
<text x="1184.82" y="1015.30" font-size="35.73" font-weight="bold" textLength="78.82" lengthAdjust="spacingAndGlyphs" fill="#3a1707" stroke="#3a1707" stroke-width="0.70" stroke-linejoin="round" paint-order="stroke" >1055</text>
<clipPath id="cl730_1_3"><rect x="1287.0" y="949.0" width="103" height="103" rx="15"/></clipPath>
<rect x="1287.0" y="949.0" width="103" height="103" rx="15" fill="url(#gOr)"/>
<g clip-path="url(#cl730_1_3)"><rect x="1287.0" y="949.0" width="103" height="103" rx="15" fill="none" stroke="#ffd070" stroke-width="6" opacity="0.85" filter="url(#inner)"/></g>
<text x="1305.94" y="1015.30" font-size="35.73" font-weight="bold" textLength="64.34" lengthAdjust="spacingAndGlyphs" fill="#3d2a0c" stroke="#3d2a0c" stroke-width="0.70" stroke-linejoin="round" paint-order="stroke" >659</text>
<clipPath id="cl730_2_0"><rect x="948.0" y="1064.0" width="103" height="103" rx="15"/></clipPath>
<rect x="948.0" y="1064.0" width="103" height="103" rx="15" fill="url(#gOr)"/>
<g clip-path="url(#cl730_2_0)"><rect x="948.0" y="1064.0" width="103" height="103" rx="15" fill="none" stroke="#ffd070" stroke-width="6" opacity="0.85" filter="url(#inner)"/></g>
<text x="967.15" y="1129.30" font-size="35.73" font-weight="bold" textLength="63.99" lengthAdjust="spacingAndGlyphs" fill="#3d2a0c" stroke="#3d2a0c" stroke-width="0.70" stroke-linejoin="round" paint-order="stroke" >657</text>
<clipPath id="cl730_2_1"><rect x="1061.0" y="1064.0" width="103" height="103" rx="15"/></clipPath>
<rect x="1061.0" y="1064.0" width="103" height="103" rx="15" fill="url(#gRd)"/>
<g clip-path="url(#cl730_2_1)"><rect x="1061.0" y="1064.0" width="103" height="103" rx="15" fill="none" stroke="#ffa070" stroke-width="6" opacity="0.85" filter="url(#inner)"/></g>
<text x="1071.94" y="1129.25" font-size="35.66" font-weight="bold" textLength="78.18" lengthAdjust="spacingAndGlyphs" fill="#3a1707" stroke="#3a1707" stroke-width="0.70" stroke-linejoin="round" paint-order="stroke" >1053</text>
<clipPath id="cl730_2_2"><rect x="1174.0" y="1064.0" width="103" height="103" rx="15"/></clipPath>
<rect x="1174.0" y="1064.0" width="103" height="103" rx="15" fill="url(#gRd)"/>
<g clip-path="url(#cl730_2_2)"><rect x="1174.0" y="1064.0" width="103" height="103" rx="15" fill="none" stroke="#ffa070" stroke-width="6" opacity="0.85" filter="url(#inner)"/></g>
<text x="1184.80" y="1129.30" font-size="35.73" font-weight="bold" textLength="79.42" lengthAdjust="spacingAndGlyphs" fill="#3a1707" stroke="#3a1707" stroke-width="0.70" stroke-linejoin="round" paint-order="stroke" >1057</text>
<clipPath id="cl730_2_3"><rect x="1287.0" y="1064.0" width="103" height="103" rx="15"/></clipPath>
<rect x="1287.0" y="1064.0" width="103" height="103" rx="15" fill="url(#gOr)"/>
<g clip-path="url(#cl730_2_3)"><rect x="1287.0" y="1064.0" width="103" height="103" rx="15" fill="none" stroke="#ffd070" stroke-width="6" opacity="0.85" filter="url(#inner)"/></g>
<text x="1305.92" y="1129.30" font-size="35.73" font-weight="bold" textLength="65.30" lengthAdjust="spacingAndGlyphs" fill="#3d2a0c" stroke="#3d2a0c" stroke-width="0.70" stroke-linejoin="round" paint-order="stroke" >662</text>
<clipPath id="cl730_3_0"><rect x="948.0" y="1179.0" width="103" height="103" rx="15"/></clipPath>
<rect x="948.0" y="1179.0" width="103" height="103" rx="15" fill="url(#gOr)"/>
<g clip-path="url(#cl730_3_0)"><rect x="948.0" y="1179.0" width="103" height="103" rx="15" fill="none" stroke="#ffd070" stroke-width="6" opacity="0.85" filter="url(#inner)"/></g>
<text x="967.40" y="1243.50" font-size="35.73" font-weight="bold" textLength="62.54" lengthAdjust="spacingAndGlyphs" fill="#3d2a0c" stroke="#3d2a0c" stroke-width="0.70" stroke-linejoin="round" paint-order="stroke" >529</text>
<clipPath id="cl730_3_1"><rect x="1061.0" y="1179.0" width="103" height="103" rx="15"/></clipPath>
<rect x="1061.0" y="1179.0" width="103" height="103" rx="15" fill="url(#gOr)"/>
<g clip-path="url(#cl730_3_1)"><rect x="1061.0" y="1179.0" width="103" height="103" rx="15" fill="none" stroke="#ffd070" stroke-width="6" opacity="0.85" filter="url(#inner)"/></g>
<text x="1079.16" y="1243.50" font-size="35.73" font-weight="bold" textLength="65.79" lengthAdjust="spacingAndGlyphs" fill="#3d2a0c" stroke="#3d2a0c" stroke-width="0.70" stroke-linejoin="round" paint-order="stroke" >785</text>
<clipPath id="cl730_3_2"><rect x="1174.0" y="1179.0" width="103" height="103" rx="15"/></clipPath>
<rect x="1174.0" y="1179.0" width="103" height="103" rx="15" fill="url(#gOr)"/>
<g clip-path="url(#cl730_3_2)"><rect x="1174.0" y="1179.0" width="103" height="103" rx="15" fill="none" stroke="#ffd070" stroke-width="6" opacity="0.85" filter="url(#inner)"/></g>
<text x="1196.79" y="1243.50" font-size="35.73" font-weight="bold" textLength="56.50" lengthAdjust="spacingAndGlyphs" fill="#3d2a0c" stroke="#3d2a0c" stroke-width="0.70" stroke-linejoin="round" paint-order="stroke" >781</text>
<clipPath id="cl730_3_3"><rect x="1287.0" y="1179.0" width="103" height="103" rx="15"/></clipPath>
<rect x="1287.0" y="1179.0" width="103" height="103" rx="15" fill="url(#gOr)"/>
<g clip-path="url(#cl730_3_3)"><rect x="1287.0" y="1179.0" width="103" height="103" rx="15" fill="none" stroke="#ffd070" stroke-width="6" opacity="0.85" filter="url(#inner)"/></g>
<text x="1304.62" y="1243.50" font-size="35.73" font-weight="bold" textLength="66.75" lengthAdjust="spacingAndGlyphs" fill="#3d2a0c" stroke="#3d2a0c" stroke-width="0.70" stroke-linejoin="round" paint-order="stroke" >524</text>
<circle cx="1169.5" cy="1058.0" r="53" fill="#ffa828" opacity="1" filter="url(#glow2)"/>
<circle cx="1169.5" cy="1058.0" r="46" fill="url(#gCirc)"/>
<text x="1133.87" y="1072.86" font-size="34.46" font-weight="bold" textLength="68.18" lengthAdjust="spacingAndGlyphs" fill="#ffffff" stroke="#ffffff" stroke-width="1.60" stroke-linejoin="round" paint-order="stroke" >1165</text>
</svg></body></html>
